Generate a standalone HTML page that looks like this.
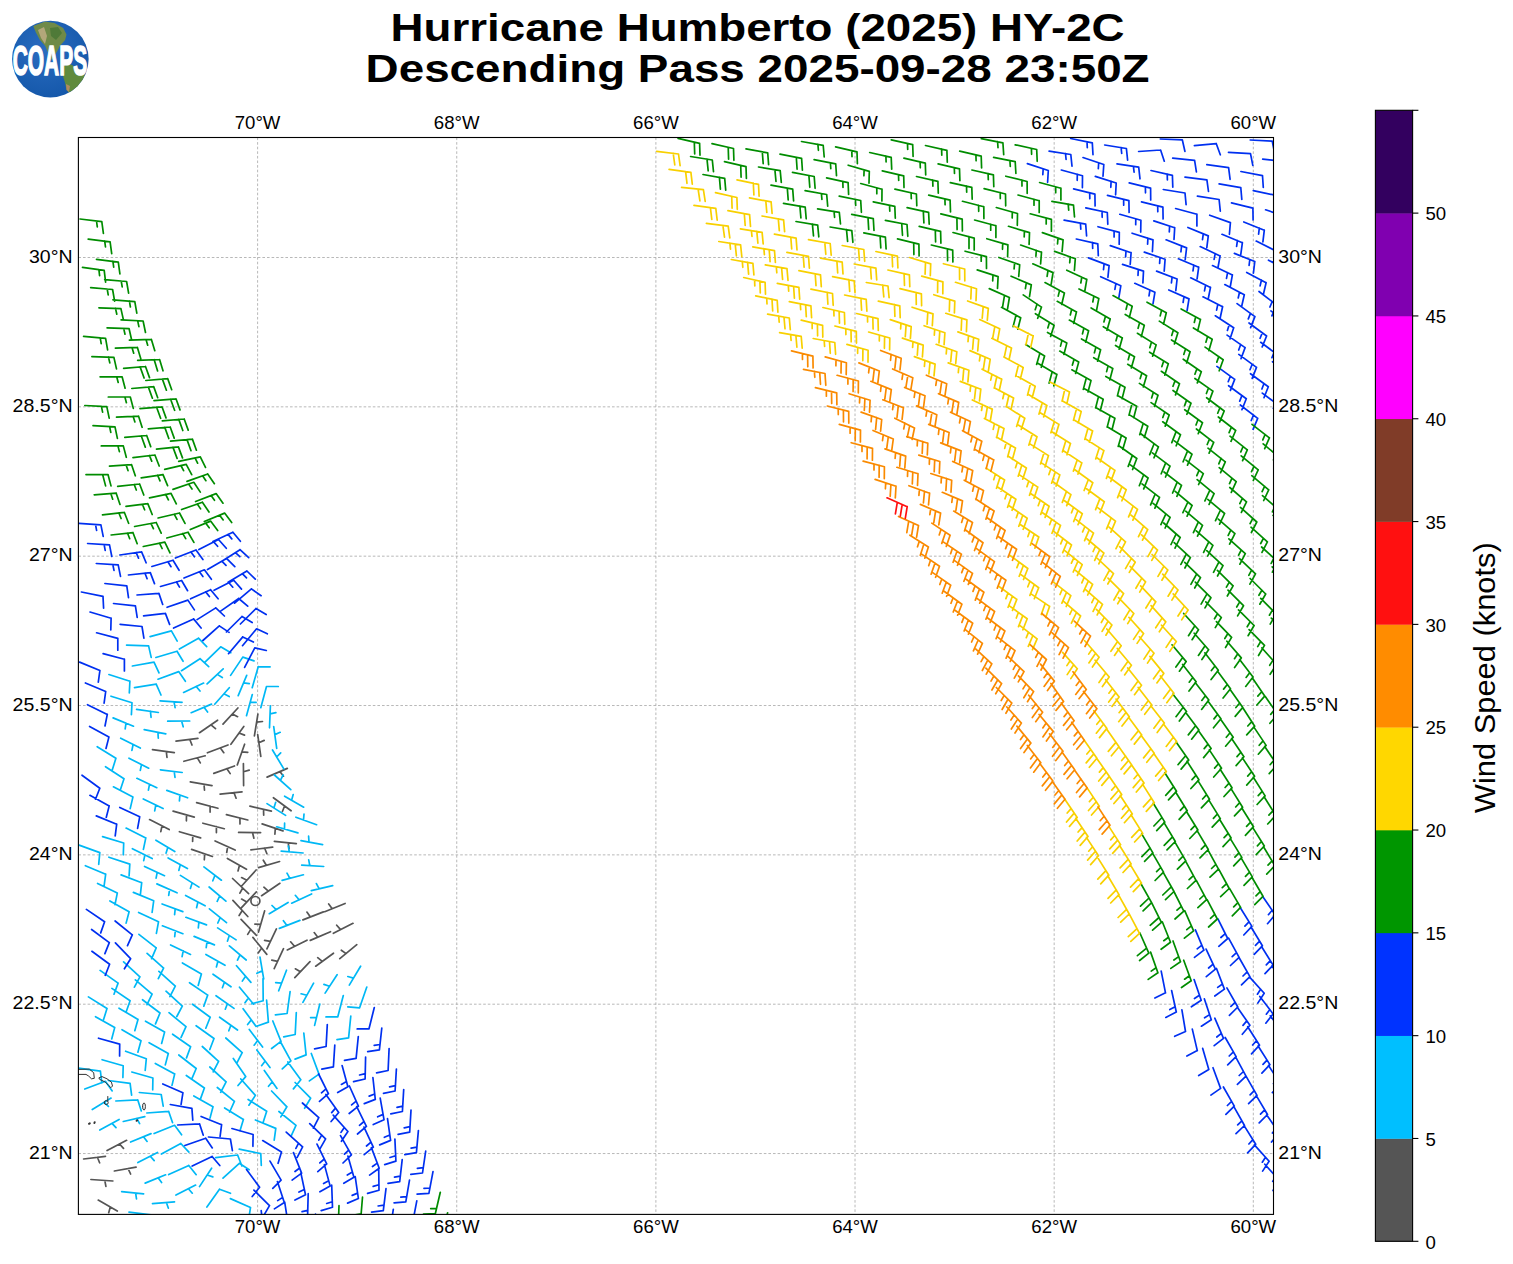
<!DOCTYPE html>
<html><head><meta charset="utf-8"><style>html,body{margin:0;padding:0;background:#fff;width:1513px;height:1264px;overflow:hidden;position:relative}</style></head>
<body><svg width="1513" height="1264" viewBox="0 0 1513 1264" style="position:absolute;left:0;top:0">
<path d="M257.60 137.5V1214.4M456.74 137.5V1214.4M655.88 137.5V1214.4M855.02 137.5V1214.4M1054.16 137.5V1214.4M1253.30 137.5V1214.4M78.4 1153.54H1273.5M78.4 1004.20H1273.5M78.4 854.86H1273.5M78.4 705.52H1273.5M78.4 556.18H1273.5M78.4 406.84H1273.5M78.4 257.50H1273.5" stroke="#b0b0b0" stroke-width="0.9" stroke-dasharray="2.6 2" fill="none"/>
<defs><clipPath id="axclip"><rect x="78.4" y="137.5" width="1195.1" height="1076.9"/></clipPath></defs><g clip-path="url(#axclip)" fill="none" stroke-width="1.70" stroke-linecap="round" stroke-linejoin="round">
<path stroke="#555555" d="M223.0 724.2L237.9 708.0M232.4 714.0l5.2 2.7M199.5 732.7L217.6 720.2M211.0 724.8l4.5 3.8M176.0 741.2L197.9 738.4M189.8 739.5l2.2 5.5M152.5 749.7L174.3 752.7M166.3 751.6l0.7 5.9M254.4 735.8L257.9 714.1M256.6 722.1l5.9 -0.6M230.9 744.3L243.8 726.5M239.0 733.0l5.5 2.1M207.4 752.8L228.0 745.0M220.4 747.9l3.4 4.8M183.9 761.3L205.2 755.8M197.4 757.8l2.9 5.1M260.8 756.4L257.7 734.7M258.8 742.7l5.4 -2.3M237.3 764.9L244.6 744.2M241.9 751.8l5.9 0.5M213.8 773.4L234.5 766.0M226.9 768.7l3.3 4.9M190.3 781.9L212.0 785.6M204.0 784.3l0.5 5.9M267.1 777.1L287.3 768.4M279.9 771.6l3.6 4.6M243.6 785.6L243.4 763.6M243.5 771.7l5.7 -1.6M220.1 794.1L242.0 791.9M234.0 792.7l2.1 5.5M196.6 802.6L217.9 808.3M210.1 806.2l-0.0 5.9M173.1 811.1L194.3 817.1M186.5 814.9l-0.1 5.9M149.6 819.6L169.2 829.5M162.0 825.9l-1.2 5.8M273.4 797.7L291.1 810.8M284.6 806.0l-2.2 5.5M249.9 806.2L271.4 811.1M263.5 809.3l0.2 5.9M226.4 814.7L247.8 820.0M239.9 818.0l0.1 5.9M202.9 823.2L224.3 828.7M216.4 826.7l0.0 5.9M179.4 831.7L200.6 837.9M192.8 835.6l-0.2 5.9M262.1 823.9L283.0 830.9M275.3 828.3l-0.4 5.9M238.6 832.4L260.6 832.6M252.5 832.5l1.4 5.7M215.1 840.9L235.1 850.1M227.7 846.7l-1.0 5.8M191.6 849.4L212.4 856.5M204.7 853.9l-0.4 5.9M274.4 841.4L296.3 843.6M288.2 842.8l0.9 5.8M250.9 849.9L272.7 847.2M264.7 848.2l2.2 5.5M227.4 858.4L246.5 869.3M239.5 865.3l-1.5 5.7M279.6 861.5L258.5 867.6M266.3 865.3l-3.0 -5.1M256.1 870.0L241.4 886.3M246.8 880.3l-5.2 -2.7M232.6 878.5L248.6 893.6M242.7 888.0l-2.8 5.2M279.9 883.3L261.6 895.7M268.3 891.1l-4.4 -3.9M256.4 891.8L241.3 907.8M246.8 901.9l-5.2 -2.8M232.9 900.3L247.8 916.5M242.3 910.5l-3.2 5.0M264.6 910.9L258.5 932.1M260.8 924.3l-5.9 -0.2M241.1 919.4L256.4 935.3M250.8 929.4l-3.1 5.0M345.1 903.5L324.7 911.7M332.2 908.7l-3.5 -4.7M323.4 911.9L302.9 919.9M310.4 916.9l-3.5 -4.8M276.4 928.9L266.9 948.8M270.4 941.4l-5.8 -1.1M252.9 937.4L266.8 954.4M261.7 948.1l-3.5 4.8M353.0 923.3L333.4 933.3M340.6 929.6l-3.9 -4.4M330.5 931.7L310.3 940.4M317.8 937.2l-3.6 -4.6M307.0 940.2L287.3 949.9M294.5 946.3l-3.9 -4.5M283.5 948.7L274.2 968.6M277.6 961.3l-5.8 -1.1M356.8 944.7L339.8 958.7M346.1 953.6l-4.8 -3.4M333.5 953.2L315.7 966.2M322.3 961.4l-4.6 -3.7M310.0 961.7L294.8 977.6M300.4 971.7l-5.1 -2.9M107.1 1150.5L126.6 1140.3M119.5 1144.0l4.0 4.4M83.6 1159.0L105.5 1156.3M97.4 1157.3l2.2 5.5M114.4 1171.0L136.1 1167.2M128.1 1168.6l2.5 5.4M90.9 1179.5L112.9 1181.0M104.8 1180.5l1.1 5.8M98.2 1200.1L117.3 1211.1M110.3 1207.0l-1.6 5.7"/>
<path stroke="#00b8f5" d="M150.1 636.6L171.4 630.9M171.4 630.9l5.8 10.2M126.6 645.1L148.6 645.9M148.6 645.9l2.6 11.5M179.4 649.0L198.5 638.2M198.5 638.2l8.2 8.4M155.9 657.5L177.0 651.2M177.0 651.2l6.1 10.1M132.4 666.0L154.0 662.1M154.0 662.1l5.0 10.7M108.9 674.5L129.9 681.2M129.9 681.2l-0.6 11.8M205.0 662.2L220.7 646.8M220.7 646.8l10.1 6.0M181.5 670.7L200.0 658.7M200.0 658.7l8.7 7.9M158.0 679.2L178.7 671.6M178.7 671.6l6.7 9.7M134.5 687.7L156.2 684.2M156.2 684.2l4.8 10.8M111.0 696.2L132.0 702.8M132.0 702.8l-0.6 11.8M230.6 675.4L242.8 657.1M242.8 657.1l11.2 3.8M207.1 683.9L223.2 668.8M217.3 674.4l5.0 3.1M183.6 692.4L203.6 683.1M196.2 686.5l3.8 4.5M160.1 700.9L182.1 702.3M174.0 701.8l1.1 5.8M136.6 709.4L158.4 712.5M150.4 711.4l0.7 5.9M113.1 717.9L133.5 726.2M126.0 723.1l-0.8 5.8M252.2 687.7L258.3 666.6M258.3 666.6l11.8 0.3M238.2 695.7L246.7 675.4M243.5 682.9l5.8 0.8M214.7 704.2L229.3 687.7M223.9 693.8l5.3 2.7M191.2 712.7L211.5 704.1M204.0 707.3l3.6 4.7M167.7 721.2L189.7 721.0M181.6 721.1l1.6 5.7M144.2 729.7L165.8 733.8M157.9 732.3l0.4 5.9M120.7 738.2L140.3 748.1M133.1 744.5l-1.2 5.8M97.2 746.7L115.9 758.3M115.9 758.3l-3.5 11.3M260.8 707.7L266.5 686.5M266.5 686.5l11.8 0.0M246.5 715.7L252.3 694.5M250.2 702.3l5.9 0.1M129.0 758.2L148.7 768.2M141.5 764.5l-1.2 5.8M105.5 766.7L124.0 778.7M124.0 778.7l-3.7 11.2M269.5 727.8L270.4 705.8M270.1 713.9l5.8 -1.2M160.4 769.8L182.2 772.5M174.2 771.5l0.8 5.8M136.9 778.3L156.8 787.7M149.5 784.3l-1.1 5.8M113.4 786.8L132.9 797.1M132.9 797.1l-2.7 11.5M276.7 748.3L273.7 726.5M274.8 734.6l5.4 -2.3M166.8 790.4L187.6 797.8M179.9 795.1l-0.5 5.9M143.3 798.9L163.1 808.5M155.8 805.0l-1.1 5.8M283.8 768.9L272.5 750.0M276.6 757.0l4.1 -4.2M126.1 828.1L145.8 837.9M145.8 837.9l-2.4 11.5M102.6 836.6L123.7 843.0M123.7 843.0l-0.4 11.8M79.1 845.1L99.8 852.6M99.8 852.6l-1.1 11.7M290.8 789.6L274.4 775.0M280.4 780.3l2.7 -5.3M155.9 840.2L174.8 851.6M167.8 847.4l-1.7 5.7M132.4 848.7L152.2 858.5M144.9 854.9l-1.2 5.8M108.9 857.2L129.8 864.1M129.8 864.1l-0.7 11.8M85.4 865.7L105.7 874.2M105.7 874.2l-1.6 11.7M303.7 807.2L284.6 796.2M291.6 800.2l1.6 -5.7M285.6 815.4L267.0 803.6M273.9 807.9l1.8 -5.6M168.1 857.9L187.4 868.5M180.3 864.6l-1.4 5.7M144.6 866.4L164.5 875.7M157.2 872.3l-1.1 5.8M121.1 874.9L141.7 882.7M141.7 882.7l-1.3 11.7M97.6 883.4L117.3 893.1M117.3 893.1l-2.3 11.6M316.6 824.7L295.9 817.2M303.5 820.0l0.5 -5.9M297.9 832.9L276.7 826.8M284.5 829.1l0.1 -5.9M203.9 866.9L221.4 880.2M215.0 875.3l-2.2 5.5M180.4 875.4L199.0 887.1M192.2 882.8l-1.8 5.6M156.9 883.9L177.0 892.8M169.6 889.5l-0.9 5.8M133.4 892.4L153.7 900.8M153.7 900.8l-1.6 11.7M109.9 900.9L129.1 911.7M129.1 911.7l-3.0 11.4M322.6 844.7L301.0 840.6M309.0 842.1l-0.4 -5.9M303.1 853.0L281.2 851.1M289.3 851.8l-1.0 -5.8M209.1 887.0L225.9 901.2M219.7 896.0l-2.5 5.3M185.6 895.5L205.1 905.8M197.9 902.0l-1.3 5.7M162.1 904.0L182.8 911.6M175.2 908.8l-0.6 5.9M138.6 912.5L158.5 921.8M158.5 921.8l-2.1 11.6M323.7 866.5L301.7 865.1M309.8 865.6l-1.1 -5.8M303.4 874.8L282.1 880.4M289.9 878.3l-2.9 -5.1M209.4 908.8L226.5 922.6M220.2 917.6l-2.4 5.4M185.9 917.3L206.5 924.9M198.9 922.1l-0.6 5.9M162.4 925.8L182.9 933.7M175.3 930.8l-0.6 5.9M138.9 934.3L156.2 947.8M156.2 947.8l-4.6 10.8M332.7 885.6L311.3 890.6M319.2 888.8l-2.8 -5.2M311.6 893.9L291.7 903.2M299.1 899.8l-3.8 -4.5M288.1 902.4L269.3 913.7M276.2 909.6l-4.2 -4.1M217.6 927.9L236.1 939.9M229.3 935.5l-1.8 5.6M194.1 936.4L214.4 944.9M207.0 941.8l-0.8 5.8M170.6 944.9L190.5 954.4M183.2 950.9l-1.1 5.8M147.1 953.4L163.6 968.1M163.6 968.1l-5.3 10.5M123.6 961.9L139.9 976.8M139.9 976.8l-5.5 10.4M100.1 970.4L118.1 983.1M118.1 983.1l-4.1 11.1M299.9 920.4L279.4 928.4M286.9 925.5l-3.5 -4.8M229.4 945.9L246.2 960.0M240.0 954.8l-2.5 5.3M205.9 954.4L225.0 965.3M217.9 961.3l-1.5 5.7M182.4 962.9L201.4 974.0M201.4 974.0l-3.2 11.4M158.9 971.4L175.3 986.1M175.3 986.1l-5.4 10.5M135.4 979.9L152.1 994.1M152.1 994.1l-5.1 10.6M111.9 988.4L130.1 1000.7M130.1 1000.7l-3.9 11.1M88.4 996.9L107.0 1008.5M107.0 1008.5l-3.5 11.3M260.0 957.2L263.7 978.9M262.3 970.9l-5.4 2.4M236.5 965.7L250.9 982.4M245.6 976.2l-3.3 4.9M213.0 974.2L231.0 986.8M224.4 982.2l-2.0 5.5M189.5 982.7L207.7 995.1M207.7 995.1l-3.9 11.1M166.0 991.2L182.3 1006.1M182.3 1006.1l-5.5 10.4M142.5 999.7L160.0 1013.0M160.0 1013.0l-4.5 10.9M119.0 1008.2L138.0 1019.4M138.0 1019.4l-3.2 11.3M95.5 1016.7L114.7 1027.6M114.7 1027.6l-3.0 11.4M286.5 970.2L278.7 990.8M281.6 983.2l-5.9 -0.6M263.0 978.7L263.2 1000.7M263.2 1000.7l-11.4 3.1M239.5 987.2L253.6 1004.2M248.4 997.9l-3.4 4.8M216.0 995.7L234.0 1008.4M227.4 1003.7l-2.1 5.5M192.5 1004.2L210.2 1017.3M210.2 1017.3l-4.4 10.9M169.0 1012.7L186.0 1026.7M186.0 1026.7l-4.9 10.7M145.5 1021.2L164.6 1032.1M164.6 1032.1l-3.0 11.4M122.0 1029.7L141.0 1040.8M141.0 1040.8l-3.1 11.4M360.6 966.2L349.3 985.1M353.5 978.1l-5.7 -1.6M337.1 974.7L325.1 993.1M329.5 986.3l-5.6 -1.9M313.6 983.2L302.9 1002.4M306.8 995.3l-5.7 -1.5M290.1 991.7L287.1 1013.5M287.1 1013.5l-11.7 1.4M266.6 1000.2L268.4 1022.1M268.4 1022.1l-11.1 3.9M243.1 1008.7L256.1 1026.4M251.3 1019.9l-3.7 4.6M219.6 1017.2L237.5 1030.0M230.9 1025.3l-2.1 5.5M196.1 1025.7L214.0 1038.5M214.0 1038.5l-4.2 11.0M172.6 1034.2L190.6 1046.8M190.6 1046.8l-4.1 11.1M149.1 1042.7L168.3 1053.5M168.3 1053.5l-3.0 11.4M125.6 1051.2L146.3 1058.8M146.3 1058.8l-1.1 11.7M102.1 1059.7L123.2 1065.8M123.2 1065.8l-0.3 11.8M78.6 1068.2L100.4 1071.2M100.4 1071.2l1.4 11.7M366.8 987.0L359.6 1007.8M359.6 1007.8l-11.8 -0.9M343.3 995.5L337.8 1016.8M337.8 1016.8l-11.8 0.1M319.8 1004.0L314.6 1025.4M316.5 1017.5l-5.9 0.1M296.3 1012.5L295.2 1034.5M295.2 1034.5l-11.5 2.4M272.8 1021.0L281.0 1041.4M281.0 1041.4l-9.4 7.1M249.3 1029.5L262.6 1047.1M257.7 1040.6l-3.6 4.6M225.8 1038.0L242.2 1052.7M242.2 1052.7l-5.4 10.5M202.3 1046.5L218.6 1061.3M218.6 1061.3l-5.4 10.5M178.8 1055.0L196.2 1068.5M196.2 1068.5l-4.6 10.8M155.3 1063.5L174.7 1073.9M174.7 1073.9l-2.7 11.5M131.8 1072.0L152.9 1078.0M152.9 1078.0l-0.2 11.8M108.3 1080.5L130.1 1083.4M130.1 1083.4l1.5 11.7M84.8 1089.0L105.4 1081.3M105.4 1081.3l6.8 9.6M350.8 1016.0L348.6 1037.9M348.6 1037.9l-11.6 1.8M303.8 1033.0L306.1 1054.9M306.1 1054.9l-11.0 4.2M280.3 1041.5L290.9 1060.8M290.9 1060.8l-8.6 8.1M256.8 1050.0L270.0 1067.5M265.2 1061.1l-3.6 4.6M233.3 1058.5L245.7 1076.6M245.7 1076.6l-7.7 8.9M209.8 1067.0L226.1 1081.8M226.1 1081.8l-5.4 10.5M186.3 1075.5L204.4 1088.0M204.4 1088.0l-4.0 11.1M139.3 1092.5L161.2 1094.5M161.2 1094.5l2.0 11.6M115.8 1101.0L137.7 1099.8M137.7 1099.8l3.6 11.2M92.3 1109.5L111.1 1098.1M104.2 1102.3l4.2 4.1M311.3 1053.5L319.0 1074.1M319.0 1074.1l-9.6 6.8M287.8 1062.0L300.8 1079.7M300.8 1079.7l-7.4 9.2M264.3 1070.5L277.0 1088.4M272.3 1081.8l-3.8 4.5M240.8 1079.0L255.4 1095.4M255.4 1095.4l-6.5 9.8M217.3 1087.5L234.4 1101.3M234.4 1101.3l-4.8 10.7M193.8 1096.0L213.0 1106.7M213.0 1106.7l-3.0 11.4M146.8 1113.0L168.7 1111.4M168.7 1111.4l3.8 11.2M123.3 1121.5L144.8 1116.7M136.9 1118.4l2.7 5.2M99.8 1130.0L119.1 1119.5M112.0 1123.3l4.0 4.3M295.1 1082.5L310.6 1098.2M310.6 1098.2l-6.0 10.1M271.6 1091.0L286.9 1106.8M286.9 1106.8l-6.1 10.1M248.1 1099.5L266.7 1111.3M266.7 1111.3l-3.6 11.2M224.6 1108.0L243.4 1119.4M243.4 1119.4l-3.4 11.3M154.1 1133.5L174.6 1125.3M174.6 1125.3l7.0 9.5M130.6 1142.0L151.0 1133.6M143.5 1136.7l3.6 4.7M278.9 1111.5L296.0 1125.4M296.0 1125.4l-4.9 10.7M255.4 1120.0L275.8 1128.4M275.8 1128.4l-1.6 11.7M161.4 1154.0L180.8 1143.5M180.8 1143.5l8.1 8.6M137.9 1162.5L157.5 1152.5M150.3 1156.2l3.9 4.4M239.2 1149.1L260.8 1153.7M260.8 1153.7l0.5 11.8M215.7 1157.6L237.6 1155.0M237.6 1155.0l4.3 11.0M168.7 1174.6L188.8 1165.5M188.8 1165.5l7.4 9.2M145.2 1183.1L165.6 1174.8M158.1 1177.8l3.5 4.7M121.7 1191.6L143.6 1193.8M135.6 1193.0l0.9 5.8M223.0 1178.1L239.3 1163.3M239.3 1163.3l9.9 6.4M199.5 1186.6L211.6 1168.2M207.2 1175.0l5.6 1.9M176.0 1195.1L195.6 1185.1M188.4 1188.8l3.9 4.4M152.5 1203.6L174.5 1201.9M166.4 1202.5l1.9 5.6M129.0 1212.1L150.9 1214.8M142.8 1213.8l0.8 5.8M230.4 1198.6L250.5 1207.5M250.5 1207.5l-1.8 11.6M206.9 1207.1L219.5 1189.2M219.5 1189.2l11.0 4.1"/>
<path stroke="#0030f0" d="M1027.4 163.6L1048.3 170.5M1048.3 170.5l-0.7 11.8M1043.2 168.8l-0.4 5.9M1049.1 151.1L1070.8 154.5M1070.8 154.5l1.2 11.7M1065.5 153.6l0.6 5.9M1070.7 138.5L1092.3 142.9M1092.3 142.9l0.7 11.8M1087.0 141.8l0.3 5.9M1061.3 170.0L1082.5 175.8M1082.5 175.8l-0.1 11.8M1077.3 174.4l-0.1 5.9M1083.0 157.5L1103.8 164.5M1103.8 164.5l-0.8 11.8M1098.7 162.8l-0.4 5.9M1104.7 145.0L1126.4 148.5M1126.4 148.5l1.2 11.7M1121.1 147.6l0.6 5.9M1073.6 188.9L1094.9 194.1M1094.9 194.1l0.2 11.8M1089.7 192.8l0.1 5.9M1095.3 176.4L1116.2 183.0M1116.2 183.0l-0.6 11.8M1111.1 181.4l-0.3 5.9M1117.0 163.9L1138.7 167.1M1138.7 167.1l1.3 11.7M1133.4 166.3l0.7 5.9M1138.6 151.5L1160.6 150.0M1160.6 150.0l3.7 11.2M1160.3 139.0L1182.3 139.8M1182.3 139.8l2.6 11.5M1064.1 220.2L1085.7 224.2M1085.7 224.2l0.9 11.8M1080.4 223.2l0.4 5.9M1085.8 207.8L1107.3 212.5M1107.3 212.5l0.5 11.8M1102.0 211.4l0.2 5.9M1107.5 195.3L1128.9 200.6M1128.9 200.6l0.2 11.8M1123.6 199.3l0.1 5.9M1129.2 182.9L1150.6 188.2M1150.6 188.2l0.1 11.8M1145.4 186.9l0.1 5.9M1151.0 170.5L1172.4 175.3M1172.4 175.3l0.4 11.8M1167.2 174.1l0.2 5.9M1172.7 158.1L1194.6 160.3M1194.6 160.3l1.8 11.6M1194.4 145.6L1216.3 143.7M1216.3 143.7l4.0 11.1M1076.3 239.0L1097.8 243.8M1097.8 243.8l0.5 11.8M1092.5 242.6l0.2 5.9M1098.0 226.7L1119.3 232.4M1119.3 232.4l-0.1 11.8M1114.1 231.0l-0.0 5.9M1119.8 214.3L1140.9 220.3M1140.9 220.3l-0.2 11.8M1135.8 218.8l-0.1 5.9M1141.5 201.9L1162.9 207.1M1162.9 207.1l0.2 11.8M1157.7 205.8l0.1 5.9M1163.3 189.5L1185.0 193.0M1185.0 193.0l1.1 11.7M1185.0 177.1L1206.9 179.8M1206.9 179.8l1.6 11.7M1206.8 164.7L1228.6 167.6M1228.6 167.6l1.5 11.7M1228.5 152.4L1250.5 153.7M1250.5 153.7l2.3 11.6M1250.2 140.0L1272.2 141.2M1272.2 141.2l2.4 11.6M1088.5 257.9L1109.1 265.6M1109.1 265.6l-1.2 11.7M1104.1 263.7l-0.6 5.9M1110.3 245.6L1131.1 252.7M1131.1 252.7l-0.9 11.8M1126.0 251.0l-0.4 5.9M1132.1 233.2L1153.0 239.9M1153.0 239.9l-0.6 11.8M1147.9 238.2l-0.3 5.9M1153.8 220.9L1174.7 227.7M1174.7 227.7l-0.7 11.8M1169.6 226.0l-0.3 5.9M1175.6 208.5L1196.9 214.2M1196.9 214.2l-0.0 11.8M1197.4 196.2L1219.1 199.5M1219.1 199.5l1.2 11.7M1219.1 183.8L1240.8 187.7M1240.8 187.7l1.0 11.7M1240.9 171.5L1262.5 175.7M1262.5 175.7l0.8 11.8M1262.7 159.2L1284.6 161.3M1284.6 161.3l1.9 11.6M1100.7 276.7L1120.8 285.8M1120.8 285.8l-1.9 11.6M1115.9 283.5l-1.0 5.8M1122.5 264.4L1143.5 271.1M1143.5 271.1l-0.6 11.8M1138.3 269.5l-0.3 5.9M1144.3 252.1L1165.1 259.3M1165.1 259.3l-0.9 11.8M1160.0 257.5l-0.4 5.9M1166.1 239.8L1186.6 247.9M1186.6 247.9l-1.4 11.7M1181.6 245.9l-0.7 5.9M1187.9 227.5L1208.3 235.9M1208.3 235.9l-1.5 11.7M1203.3 233.8l-0.8 5.8M1209.7 215.2L1230.4 222.6M1230.4 222.6l-1.0 11.7M1231.5 202.9L1252.9 208.2M1252.9 208.2l0.2 11.8M1253.3 190.6L1274.8 195.1M1274.8 195.1l0.6 11.8M1134.8 283.3L1154.9 292.3M1154.9 292.3l-1.9 11.6M1149.9 290.1l-0.9 5.8M1156.6 271.1L1177.1 279.0M1177.1 279.0l-1.3 11.7M1172.1 277.1l-0.7 5.9M1178.4 258.8L1198.7 267.2M1198.7 267.2l-1.6 11.7M1193.8 265.1l-0.8 5.8M1200.2 246.6L1220.1 255.9M1220.1 255.9l-2.1 11.6M1215.2 253.6l-1.1 5.8M1222.0 234.3L1242.4 242.7M1242.4 242.7l-1.6 11.7M1237.4 240.6l-0.8 5.8M1243.8 222.0L1264.3 230.2M1264.3 230.2l-1.4 11.7M1259.3 228.2l-0.7 5.9M1265.6 209.8L1286.5 216.9M1286.5 216.9l-0.8 11.8M1168.8 290.0L1189.0 298.9M1189.0 298.9l-1.9 11.6M1184.0 296.7l-0.9 5.8M1190.7 277.8L1210.5 287.4M1210.5 287.4l-2.3 11.6M1205.6 285.0l-1.1 5.8M1212.5 265.6L1232.4 274.9M1232.4 274.9l-2.1 11.6M1227.6 272.6l-1.1 5.8M1234.4 253.4L1254.8 261.5M1254.8 261.5l-1.4 11.7M1249.8 259.5l-0.7 5.9M1256.2 241.1L1275.9 250.9M1275.9 250.9l-2.4 11.5M1203.0 296.8L1222.6 306.7M1222.6 306.7l-2.5 11.5M1217.8 304.3l-1.2 5.8M1224.8 284.6L1244.3 294.8M1244.3 294.8l-2.6 11.5M1239.5 292.3l-1.3 5.7M1246.7 272.4L1266.1 282.7M1266.1 282.7l-2.7 11.5M1261.4 280.2l-1.3 5.7M1268.5 260.2L1288.2 270.2M1288.2 270.2l-2.5 11.5M1215.3 315.8L1233.7 327.7M1233.7 327.7l-3.7 11.2M1229.2 324.8l-1.8 5.6M1237.1 303.6L1254.9 316.6M1254.9 316.6l-4.3 11.0M1250.5 313.4l-2.2 5.5M1259.0 291.5L1276.5 304.9M1276.5 304.9l-4.6 10.9M1272.2 301.6l-2.3 5.4M1227.1 335.1L1245.1 347.6M1245.1 347.6l-4.1 11.1M1240.7 344.5l-2.0 5.5M1249.0 323.0L1266.6 336.0M1266.6 336.0l-4.4 10.9M1262.3 332.8l-2.2 5.5M1270.9 310.9L1288.4 324.1M1288.4 324.1l-4.5 10.9M1284.1 320.9l-2.2 5.5M1216.9 366.4L1234.7 379.4M1234.7 379.4l-4.3 11.0M1230.3 376.2l-2.1 5.5M1238.8 354.4L1256.5 367.4M1256.5 367.4l-4.3 11.0M1252.2 364.2l-2.2 5.5M1260.7 342.3L1278.4 355.4M1278.4 355.4l-4.4 10.9M1274.1 352.2l-2.2 5.5M1228.6 385.7L1246.3 398.8M1246.3 398.8l-4.4 10.9M1241.9 395.6l-2.2 5.5M1250.5 373.7L1268.3 386.7M1268.3 386.7l-4.3 11.0M1264.0 383.5l-2.1 5.5M1272.5 361.7L1290.2 374.8M1290.2 374.8l-4.4 11.0M1285.8 371.6l-2.2 5.5M1240.3 405.0L1257.7 418.4M1257.7 418.4l-4.6 10.9M1253.5 415.1l-2.3 5.4M1262.3 393.1L1279.9 406.2M1279.9 406.2l-4.4 10.9M1275.6 402.9l-2.2 5.5M1195.4 929.9L1203.9 950.2M1203.9 950.2l-9.4 7.2M1201.9 945.2l-4.7 3.6M1217.9 918.8L1227.7 938.5M1227.7 938.5l-8.9 7.8M1225.3 933.6l-4.4 3.9M1240.3 907.7L1251.9 926.4M1251.9 926.4l-8.1 8.6M1249.0 921.8l-4.1 4.3M1262.7 896.6L1275.2 914.7M1275.2 914.7l-7.7 9.0M1272.2 910.2l-3.8 4.5M1161.2 971.2L1165.5 992.8M1165.5 992.8l-10.6 5.2M1206.1 949.1L1215.4 969.1M1215.4 969.1l-9.1 7.5M1213.1 964.2l-4.5 3.8M1228.6 938.1L1239.1 957.4M1239.1 957.4l-8.6 8.1M1236.5 952.7l-4.3 4.0M1251.0 927.0L1262.4 945.8M1262.4 945.8l-8.2 8.5M1259.6 941.2l-4.1 4.2M1273.5 916.0L1285.8 934.2M1285.8 934.2l-7.7 8.9M1282.8 929.7l-3.9 4.4M1171.6 990.5L1176.3 1012.0M1176.3 1012.0l-10.5 5.4M1175.1 1006.8l-5.3 2.7M1194.1 979.5L1201.2 1000.3M1201.2 1000.3l-9.8 6.5M1199.4 995.2l-4.9 3.3M1216.5 968.5L1224.4 989.1M1224.4 989.1l-9.6 6.9M1222.5 984.0l-4.8 3.4M1239.0 957.5L1249.9 976.6M1249.9 976.6l-8.4 8.2M1247.2 971.9l-4.2 4.1M1261.5 946.5L1273.1 965.1M1273.1 965.1l-8.1 8.6M1270.3 960.6l-4.0 4.3M1181.9 1009.8L1185.5 1031.5M1185.5 1031.5l-10.8 4.8M1204.4 998.9L1211.3 1019.8M1211.3 1019.8l-9.9 6.4M1209.6 1014.6l-5.0 3.2M1226.9 987.9L1237.8 1007.0M1237.8 1007.0l-8.4 8.3M1235.1 1002.3l-4.2 4.1M1249.4 976.9L1264.2 993.2M1264.2 993.2l-6.4 9.9M1260.6 989.2l-3.2 5.0M1271.9 966.0L1285.0 983.7M1285.0 983.7l-7.4 9.2M1281.8 979.3l-3.7 4.6M1192.3 1029.1L1197.3 1050.6M1197.3 1050.6l-10.4 5.5M1214.8 1018.2L1223.5 1038.4M1223.5 1038.4l-9.3 7.3M1221.4 1033.4l-4.6 3.6M1237.3 1007.3L1249.9 1025.3M1249.9 1025.3l-7.6 9.0M1246.8 1020.9l-3.8 4.5M1259.8 996.4L1273.1 1013.9M1273.1 1013.9l-7.3 9.3M1269.9 1009.6l-3.6 4.6M1202.7 1048.4L1208.8 1069.5M1208.8 1069.5l-10.1 6.1M1225.2 1037.5L1236.1 1056.6M1236.1 1056.6l-8.4 8.3M1233.4 1051.9l-4.2 4.1M1247.7 1026.7L1259.5 1045.2M1259.5 1045.2l-8.0 8.6M1256.6 1040.7l-4.0 4.3M1270.3 1015.8L1283.3 1033.5M1283.3 1033.5l-7.4 9.2M1280.1 1029.2l-3.7 4.6M1213.0 1067.7L1220.6 1088.4M1220.6 1088.4l-9.7 6.7M1235.6 1056.9L1246.0 1076.2M1246.0 1076.2l-8.6 8.1M1243.5 1071.5l-4.3 4.0M1258.1 1046.0L1269.9 1064.6M1269.9 1064.6l-8.0 8.6M1267.0 1060.1l-4.0 4.3M1223.4 1087.0L1234.3 1106.1M1234.3 1106.1l-8.4 8.3M1231.6 1101.4l-4.2 4.1M1246.0 1076.2L1257.0 1095.3M1257.0 1095.3l-8.4 8.3M1254.3 1090.6l-4.2 4.2M1268.5 1065.4L1280.4 1084.0M1280.4 1084.0l-8.0 8.7M1277.5 1079.4l-4.0 4.3M1233.7 1106.3L1244.5 1125.5M1244.5 1125.5l-8.5 8.2M1241.9 1120.8l-4.2 4.1M1256.3 1095.6L1267.5 1114.5M1267.5 1114.5l-8.3 8.4M1264.7 1109.9l-4.2 4.2M1244.1 1125.6L1255.7 1144.3M1255.7 1144.3l-8.1 8.6M1252.9 1139.7l-4.0 4.3M1266.7 1114.9L1279.2 1133.0M1279.2 1133.0l-7.7 9.0M1276.2 1128.5l-3.8 4.5M1254.4 1144.9L1269.1 1161.3M1269.1 1161.3l-6.5 9.8M1265.5 1157.3l-3.2 4.9M1264.8 1164.2L1279.5 1180.6M1279.5 1180.6l-6.5 9.9M1275.9 1176.5l-3.2 4.9M79.0 523.4L100.9 524.8M100.9 524.8l2.3 11.6M95.5 524.5l1.1 5.8M87.6 543.5L109.5 544.9M109.5 544.9l2.3 11.6M104.1 544.5l1.1 5.8M119.8 555.0L141.6 551.9M141.6 551.9l4.5 10.9M136.2 552.7l2.3 5.4M96.3 563.5L118.2 564.8M118.2 564.8l2.3 11.6M112.8 564.5l1.2 5.8M212.9 541.5L232.9 532.2M232.9 532.2l7.5 9.1M228.0 534.4l3.8 4.5M198.9 549.5L218.5 539.5M218.5 539.5l7.8 8.8M213.7 541.9l3.9 4.4M175.4 558.0L196.0 550.0M196.0 550.0l6.9 9.6M190.9 552.0l3.5 4.8M151.9 566.5L173.0 560.2M173.0 560.2l6.1 10.1M167.9 561.7l3.1 5.0M128.4 575.0L150.3 572.6M150.3 572.6l4.2 11.0M145.0 573.2l2.1 5.5M104.9 583.5L126.8 585.9M126.8 585.9l1.7 11.7M81.4 592.0L103.0 596.4M103.0 596.4l0.6 11.8M221.5 561.5L240.0 549.7M240.0 549.7l8.7 8.0M235.5 552.6l4.3 4.0M207.5 569.5L226.5 558.4M226.5 558.4l8.3 8.3M221.8 561.2l4.2 4.2M184.0 578.0L204.4 569.8M204.4 569.8l7.0 9.5M199.4 571.8l3.5 4.7M160.5 586.5L181.6 580.5M181.6 580.5l6.0 10.2M176.5 582.0l3.0 5.1M137.0 595.0L158.9 593.4M158.9 593.4l3.8 11.1M113.5 603.5L135.4 605.8M135.4 605.8l1.8 11.6M90.0 612.0L111.1 618.2M111.1 618.2l-0.3 11.8M228.1 582.3L246.9 571.0M246.9 571.0l8.4 8.2M242.3 573.7l4.2 4.1M214.1 590.3L233.7 580.3M233.7 580.3l7.8 8.8M228.9 582.8l3.9 4.4M190.6 598.8L210.6 589.7M210.6 589.7l7.5 9.1M205.7 591.9l3.7 4.6M167.1 607.3L187.9 600.1M187.9 600.1l6.5 9.8M143.6 615.8L165.4 613.4M165.4 613.4l4.2 11.0M120.1 624.3L142.0 626.5M142.0 626.5l1.9 11.6M96.6 632.8L117.8 638.4M117.8 638.4l-0.0 11.8M234.6 603.1L251.4 588.9M251.4 588.9l9.7 6.8M220.6 611.1L238.7 598.5M238.7 598.5l9.0 7.7M197.1 619.6L215.8 607.9M215.8 607.9l8.6 8.1M173.6 628.1L193.6 618.9M193.6 618.9l7.5 9.1M103.1 653.6L124.4 659.2M124.4 659.2l-0.0 11.8M79.6 662.1L99.9 670.5M99.9 670.5l-1.6 11.7M240.4 624.0L256.0 608.5M256.0 608.5l10.2 6.0M226.4 632.0L242.0 616.5M242.0 616.5l10.2 6.0M202.9 640.5L219.3 625.9M219.3 625.9l9.8 6.5M85.4 683.0L105.7 691.5M105.7 691.5l-1.6 11.7M242.5 645.7L256.6 628.8M256.6 628.8l10.7 5.0M228.5 653.7L242.8 636.9M242.8 636.9l10.6 5.1M87.5 704.7L107.3 714.4M107.3 714.4l-2.3 11.6M244.6 667.4L254.8 647.9M254.8 647.9l11.5 2.6M89.6 726.4L108.9 737.1M108.9 737.1l-2.9 11.4M82.0 775.2L99.8 788.2M99.8 788.2l-4.3 11.0M89.9 795.3L109.2 805.9M109.2 805.9l-2.9 11.4M119.8 807.4L139.7 816.8M139.7 816.8l-2.1 11.6M96.3 815.9L116.7 824.2M116.7 824.2l-1.5 11.7M86.4 909.4L104.6 921.8M104.6 921.8l-3.9 11.1M115.1 921.0L132.3 934.8M132.3 934.8l-4.8 10.8M91.6 929.5L109.3 942.6M109.3 942.6l-4.4 11.0M115.4 942.8L130.6 958.7M130.6 958.7l-6.2 10.1M91.9 951.3L109.6 964.3M109.6 964.3l-4.3 11.0M98.5 1038.2L119.7 1044.1M119.7 1044.1l-0.1 11.8M374.3 1007.5L369.0 1028.8M369.0 1028.8l-11.8 0.1M327.3 1024.5L326.1 1046.5M326.1 1046.5l-11.5 2.4M162.8 1084.0L182.9 1092.8M182.9 1092.8l-1.8 11.6M381.8 1028.0L379.4 1049.8M379.4 1049.8l-11.7 1.8M380.0 1044.5l-5.8 0.9M358.3 1036.5L356.1 1058.4M356.1 1058.4l-11.6 1.9M334.8 1045.0L333.4 1066.9M333.4 1066.9l-11.6 2.3M170.3 1104.5L191.9 1108.4M191.9 1108.4l0.9 11.8M389.1 1048.5L388.1 1070.5M388.1 1070.5l-11.5 2.4M365.6 1057.0L365.1 1079.0M365.1 1079.0l-11.5 2.7M365.3 1073.6l-5.7 1.4M342.1 1065.5L347.9 1086.7M347.9 1086.7l-10.2 5.9M346.5 1081.5l-5.1 2.9M318.6 1074.0L328.4 1093.7M328.4 1093.7l-8.9 7.7M326.0 1088.9l-4.5 3.9M201.1 1116.5L221.6 1124.7M221.6 1124.7l-1.5 11.7M177.6 1125.0L199.6 1123.9M199.6 1123.9l3.6 11.2M396.4 1069.0L395.1 1091.0M395.1 1091.0l-11.6 2.3M395.4 1085.6l-5.8 1.2M372.9 1077.5L375.3 1099.4M375.3 1099.4l-11.0 4.2M374.7 1094.0l-5.5 2.1M349.4 1086.0L358.4 1106.1M358.4 1106.1l-9.2 7.4M356.2 1101.2l-4.6 3.7M325.9 1094.5L338.7 1112.5M338.7 1112.5l-7.6 9.0M335.5 1108.1l-3.8 4.5M302.4 1103.0L318.8 1117.7M318.8 1117.7l-5.4 10.5M231.9 1128.5L253.1 1134.5M253.1 1134.5l-0.2 11.8M208.4 1137.0L230.4 1139.0M230.4 1139.0l2.0 11.6M184.9 1145.5L205.7 1138.2M205.7 1138.2l6.6 9.7M403.7 1089.6L402.4 1111.5M402.4 1111.5l-11.6 2.3M402.8 1106.1l-5.8 1.2M380.2 1098.1L384.0 1119.7M384.0 1119.7l-10.7 4.9M383.1 1114.4l-5.4 2.4M356.7 1106.6L366.4 1126.3M366.4 1126.3l-8.9 7.7M364.0 1121.5l-4.5 3.8M333.2 1115.1L347.9 1131.5M347.9 1131.5l-6.5 9.8M344.3 1127.5l-3.3 4.9M309.7 1123.6L325.6 1138.9M325.6 1138.9l-5.8 10.3M321.7 1135.1l-2.9 5.1M286.2 1132.1L302.6 1146.8M302.6 1146.8l-5.4 10.5M298.6 1143.2l-2.7 5.2M262.7 1140.6L281.5 1152.0M281.5 1152.0l-3.4 11.3M192.2 1166.1L212.1 1156.5M212.1 1156.5l7.7 9.0M411.0 1110.1L409.7 1132.1M409.7 1132.1l-11.6 2.3M410.0 1126.7l-5.8 1.1M387.5 1118.6L390.6 1140.4M390.6 1140.4l-10.9 4.5M389.8 1135.0l-5.4 2.3M364.0 1127.1L373.3 1147.1M373.3 1147.1l-9.1 7.5M371.0 1142.2l-4.5 3.8M340.5 1135.6L351.4 1154.8M351.4 1154.8l-8.4 8.2M348.7 1150.1l-4.2 4.1M317.0 1144.1L326.7 1163.9M326.7 1163.9l-8.9 7.7M324.3 1159.0l-4.5 3.9M293.5 1152.6L301.6 1173.1M301.6 1173.1l-9.5 7.0M299.7 1168.0l-4.7 3.5M270.0 1161.1L281.1 1180.1M281.1 1180.1l-8.3 8.3M246.5 1169.6L259.6 1187.3M259.6 1187.3l-7.4 9.2M418.4 1130.6L416.4 1152.6M416.4 1152.6l-11.6 2.0M416.9 1147.2l-5.8 1.0M394.9 1139.1L395.9 1161.1M395.9 1161.1l-11.2 3.5M395.6 1155.7l-5.6 1.8M371.4 1147.6L379.2 1168.2M379.2 1168.2l-9.6 6.9M377.3 1163.1l-4.8 3.4M347.9 1156.1L353.9 1177.3M353.9 1177.3l-10.1 6.0M352.4 1172.1l-5.1 3.0M324.4 1164.6L330.1 1185.9M330.1 1185.9l-10.2 5.9M328.7 1180.7l-5.1 2.9M300.9 1173.1L305.5 1194.7M305.5 1194.7l-10.5 5.3M304.3 1189.4l-5.3 2.7M277.4 1181.6L284.3 1202.5M284.3 1202.5l-9.9 6.4M282.6 1197.4l-4.9 3.2M253.9 1190.1L269.5 1205.6M269.5 1205.6l-5.9 10.2M425.7 1151.2L422.5 1173.0M422.5 1173.0l-11.7 1.3M423.3 1167.6l-5.9 0.7M402.2 1159.7L399.7 1181.6M399.7 1181.6l-11.7 1.7M400.3 1176.2l-5.8 0.9M378.7 1168.2L379.0 1190.2M379.0 1190.2l-11.4 3.2M378.9 1184.8l-5.7 1.6M355.2 1176.7L358.4 1198.5M358.4 1198.5l-10.8 4.6M357.6 1193.1l-5.4 2.3M331.7 1185.2L332.5 1207.2M332.5 1207.2l-11.3 3.4M332.3 1201.8l-5.6 1.7M308.2 1193.7L307.6 1215.7M307.6 1215.7l-11.5 2.7M307.8 1210.3l-5.7 1.4M284.7 1202.2L288.1 1223.9M288.1 1223.9l-10.8 4.7M287.2 1218.6l-5.4 2.4M261.2 1210.7L263.8 1232.5M263.8 1232.5l-11.0 4.4M263.2 1227.2l-5.5 2.2M433.0 1171.7L428.9 1193.3M428.9 1193.3l-11.8 0.8M429.9 1188.0l-5.9 0.4M409.5 1180.2L405.8 1201.9M405.8 1201.9l-11.7 1.0M406.7 1196.6l-5.9 0.5M386.0 1188.7L383.3 1210.6M383.3 1210.6l-11.7 1.6M383.9 1205.2l-5.8 0.8M315.5 1214.2L315.6 1236.2M315.6 1236.2l-11.4 3.1M315.6 1230.8l-5.7 1.5M416.8 1200.8L412.7 1222.4M412.7 1222.4l-11.8 0.8M413.7 1217.1l-5.9 0.4M393.3 1209.3L390.1 1231.0M390.1 1231.0l-11.7 1.4M390.9 1225.7l-5.9 0.7"/>
<path stroke="#008c00" d="M678.1 138.4L699.6 143.3M699.6 143.3l0.4 11.8M694.3 142.1l0.4 11.8M690.6 156.5L712.3 160.0M712.3 160.0l1.2 11.7M707.0 159.1l1.2 11.7M712.0 143.6L733.5 148.5M733.5 148.5l0.4 11.8M728.2 147.3l0.4 11.8M703.0 174.5L724.7 178.4M724.7 178.4l1.0 11.7M719.4 177.4l1.0 11.7M724.5 161.7L746.0 166.6M746.0 166.6l0.4 11.8M740.7 165.4l0.4 11.8M746.0 148.9L767.7 152.8M767.7 152.8l0.9 11.8M762.3 151.8l0.9 11.8M758.5 167.0L780.2 170.7M780.2 170.7l1.1 11.7M774.9 169.8l1.1 11.7M780.0 154.2L801.6 158.4M801.6 158.4l0.8 11.8M796.3 157.4l0.8 11.8M801.5 141.5L823.2 145.3M823.2 145.3l1.0 11.7M817.9 144.4l0.5 5.9M771.0 185.2L792.7 189.1M792.7 189.1l0.9 11.8M787.3 188.1l0.9 11.8M792.5 172.4L814.2 176.5M814.2 176.5l0.9 11.8M808.9 175.5l0.9 11.8M814.1 159.7L835.7 163.8M835.7 163.8l0.8 11.8M830.4 162.8l0.4 5.9M835.6 146.9L857.0 151.9M857.0 151.9l0.4 11.8M851.8 150.7l0.2 5.9M783.5 203.3L805.2 207.1M805.2 207.1l1.0 11.7M799.9 206.2l1.0 11.7M805.1 190.6L826.7 194.5M826.7 194.5l1.0 11.7M821.4 193.5l0.5 5.9M826.6 177.9L848.1 182.7M848.1 182.7l0.5 11.8M842.8 181.5l0.2 5.9M848.2 165.2L869.3 171.4M869.3 171.4l-0.3 11.8M864.1 169.9l-0.2 5.9M869.7 152.5L891.2 157.3M891.2 157.3l0.5 11.8M885.9 156.1l0.2 5.9M891.3 139.8L912.7 144.7M912.7 144.7l0.4 11.8M907.5 143.5l0.2 5.9M796.0 221.5L817.7 225.1M817.7 225.1l1.1 11.7M812.4 224.2l1.1 11.7M817.6 208.8L839.3 212.3M839.3 212.3l1.2 11.7M834.0 211.4l0.6 5.9M839.2 196.1L860.7 200.5M860.7 200.5l0.7 11.8M855.4 199.5l0.3 5.9M860.7 183.5L882.0 189.2M882.0 189.2l-0.1 11.8M876.8 187.8l-0.0 5.9M882.3 170.8L903.7 175.8M903.7 175.8l0.3 11.8M898.5 174.6l0.2 5.9M903.9 158.1L925.3 163.1M925.3 163.1l0.4 11.8M920.1 161.9l0.2 5.9M925.5 145.5L946.9 150.4M946.9 150.4l0.4 11.8M941.6 149.2l0.2 5.9M830.1 227.0L851.8 230.6M851.8 230.6l1.1 11.7M846.5 229.7l1.1 11.7M851.7 214.4L873.3 218.7M873.3 218.7l0.7 11.8M868.0 217.6l0.7 11.8M873.3 201.8L894.8 206.4M894.8 206.4l0.5 11.8M889.5 205.3l0.3 5.9M894.9 189.1L916.4 194.0M916.4 194.0l0.4 11.8M911.1 192.8l0.2 5.9M916.5 176.5L937.9 181.4M937.9 181.4l0.4 11.8M932.7 180.2l0.2 5.9M938.1 163.9L959.5 168.8M959.5 168.8l0.4 11.8M954.3 167.6l0.2 5.9M959.7 151.2L981.2 156.1M981.2 156.1l0.4 11.8M975.9 154.9l0.2 5.9M981.3 138.6L1002.9 142.8M1002.9 142.8l0.8 11.8M997.6 141.7l0.4 5.9M863.8 232.9L885.4 237.2M885.4 237.2l0.7 11.8M880.1 236.2l0.7 11.8M885.4 220.3L907.0 224.5M907.0 224.5l0.8 11.8M901.7 223.5l0.8 11.8M907.1 207.7L928.6 212.3M928.6 212.3l0.6 11.8M923.3 211.2l0.6 11.8M928.7 195.1L950.1 200.1M950.1 200.1l0.4 11.8M944.9 198.9l0.2 5.9M950.3 182.6L971.8 187.4M971.8 187.4l0.4 11.8M966.5 186.2l0.2 5.9M971.9 170.0L993.4 174.9M993.4 174.9l0.4 11.8M988.1 173.7l0.2 5.9M993.6 157.4L1015.2 161.7M1015.2 161.7l0.7 11.8M1009.9 160.6l0.4 5.9M1015.2 144.8L1036.7 149.5M1036.7 149.5l0.5 11.8M1031.4 148.4l0.2 5.9M897.5 238.9L918.9 244.1M918.9 244.1l0.2 11.8M913.7 242.8l0.2 11.8M919.2 226.4L940.6 231.4M940.6 231.4l0.3 11.8M935.3 230.2l0.3 11.8M940.8 213.8L962.2 219.1M962.2 219.1l0.2 11.8M956.9 217.8l0.2 11.8M962.5 201.3L983.8 206.7M983.8 206.7l0.1 11.8M978.6 205.4l0.1 5.9M984.1 188.7L1005.5 194.0M1005.5 194.0l0.2 11.8M1000.2 192.7l0.1 5.9M1005.8 176.2L1027.1 181.5M1027.1 181.5l0.1 11.8M1021.9 180.2l0.1 5.9M931.3 245.0L952.7 250.2M952.7 250.2l0.2 11.8M947.4 248.9l0.2 11.8M953.0 232.5L974.2 238.1M974.2 238.1l0.0 11.8M969.0 236.7l0.0 11.8M974.6 220.0L995.9 225.7M995.9 225.7l-0.0 11.8M990.7 224.3l-0.0 5.9M996.3 207.5L1017.5 213.5M1017.5 213.5l-0.2 11.8M1012.3 212.0l-0.1 5.9M1018.0 195.0L1039.2 200.7M1039.2 200.7l-0.0 11.8M1034.0 199.3l-0.0 5.9M1039.6 182.5L1060.9 188.2M1060.9 188.2l-0.0 11.8M1055.7 186.8l-0.0 5.9M965.1 251.2L986.4 256.6M986.4 256.6l0.1 11.8M981.2 255.3l0.0 5.9M986.8 238.7L1007.9 244.9M1007.9 244.9l-0.3 11.8M1002.7 243.4l-0.2 5.9M1008.5 226.3L1029.5 232.6M1029.5 232.6l-0.4 11.8M1024.4 231.0l-0.2 5.9M1030.2 213.8L1051.4 219.4M1051.4 219.4l-0.0 11.8M1046.2 218.1l-0.0 5.9M1051.9 201.3L1073.5 205.2M1073.5 205.2l1.0 11.7M1068.2 204.2l0.5 5.9M977.2 269.9L998.1 276.6M998.1 276.6l-0.6 11.8M993.0 275.0l-0.3 5.9M998.9 257.5L1019.7 264.8M1019.7 264.8l-1.0 11.7M1014.6 263.0l-0.5 5.9M1020.6 245.0L1041.5 252.2M1041.5 252.2l-0.9 11.8M1036.3 250.4l-0.4 5.9M1042.4 232.6L1063.1 239.9M1063.1 239.9l-1.0 11.7M1058.0 238.1l-0.5 5.9M989.3 288.6L1009.4 297.5M1009.4 297.5l-1.9 11.6M1004.5 295.3l-1.9 11.6M1011.1 276.2L1031.3 284.9M1031.3 284.9l-1.8 11.7M1026.3 282.8l-0.9 5.8M1032.8 263.8L1053.0 272.6M1053.0 272.6l-1.8 11.6M1048.0 270.5l-0.9 5.8M1054.6 251.4L1075.3 258.7M1075.3 258.7l-0.9 11.8M1070.2 256.9l-0.5 5.9M1001.5 307.3L1020.7 317.8M1020.7 317.8l-2.9 11.4M1016.0 315.2l-2.9 11.4M1023.2 294.9L1041.5 307.1M1041.5 307.1l-3.8 11.2M1037.1 304.1l-1.9 5.6M1045.0 282.6L1064.4 293.0M1064.4 293.0l-2.7 11.5M1059.6 290.4l-1.4 5.7M1066.8 270.2L1086.8 279.4M1086.8 279.4l-2.0 11.6M1081.8 277.2l-1.0 5.8M1035.4 313.7L1054.1 325.2M1054.1 325.2l-3.5 11.3M1049.5 322.4l-1.7 5.6M1057.2 301.3L1076.5 311.9M1076.5 311.9l-2.8 11.4M1071.7 309.3l-1.4 5.7M1079.0 289.0L1098.8 298.6M1098.8 298.6l-2.2 11.6M1093.9 296.2l-1.1 5.8M1025.7 344.6L1044.6 356.0M1044.6 356.0l-3.3 11.3M1039.9 353.2l-3.3 11.3M1047.5 332.4L1066.8 343.1M1066.8 343.1l-2.9 11.4M1062.0 340.4l-1.5 5.7M1069.3 320.1L1088.6 330.7M1088.6 330.7l-2.9 11.4M1083.9 328.1l-1.4 5.7M1091.1 307.9L1110.2 318.9M1110.2 318.9l-3.2 11.4M1105.5 316.2l-1.6 5.7M1113.0 295.6L1132.2 306.2M1132.2 306.2l-2.9 11.4M1127.5 303.6l-1.4 5.7M1037.8 363.3L1056.9 374.4M1056.9 374.4l-3.1 11.4M1052.2 371.7l-3.1 11.4M1059.7 351.1L1078.7 362.1M1078.7 362.1l-3.1 11.4M1074.0 359.4l-1.6 5.7M1081.5 338.9L1100.6 349.8M1100.6 349.8l-3.0 11.4M1095.9 347.1l-1.5 5.7M1103.3 326.7L1122.3 337.9M1122.3 337.9l-3.2 11.3M1117.6 335.1l-1.6 5.7M1125.2 314.5L1144.3 325.2M1144.3 325.2l-3.0 11.4M1139.6 322.6l-1.5 5.7M1147.0 302.2L1166.3 312.8M1166.3 312.8l-2.8 11.4M1161.6 310.2l-1.4 5.7M1071.8 369.8L1091.0 380.6M1091.0 380.6l-3.0 11.4M1086.3 378.0l-3.0 11.4M1093.7 357.7L1112.8 368.5M1112.8 368.5l-3.0 11.4M1108.1 365.9l-1.5 5.7M1115.5 345.5L1134.5 356.7M1134.5 356.7l-3.2 11.3M1129.8 354.0l-1.6 5.7M1137.4 333.3L1156.1 344.9M1156.1 344.9l-3.5 11.3M1151.5 342.1l-1.7 5.6M1159.3 321.1L1177.9 332.7M1177.9 332.7l-3.5 11.3M1173.4 329.9l-1.7 5.6M1181.1 309.0L1200.5 319.4M1200.5 319.4l-2.8 11.5M1195.7 316.8l-1.4 5.7M1084.0 388.6L1103.2 399.3M1103.2 399.3l-2.9 11.4M1098.5 396.6l-2.9 11.4M1105.8 376.4L1125.0 387.2M1125.0 387.2l-2.9 11.4M1120.3 384.5l-2.9 11.4M1127.7 364.3L1146.6 375.7M1146.6 375.7l-3.3 11.3M1141.9 372.9l-1.7 5.7M1149.6 352.2L1168.3 363.8M1168.3 363.8l-3.5 11.3M1163.7 361.0l-1.8 5.6M1171.5 340.0L1190.1 351.7M1190.1 351.7l-3.5 11.3M1185.6 348.8l-1.8 5.6M1193.4 327.9L1212.2 339.3M1212.2 339.3l-3.3 11.3M1207.6 336.5l-1.7 5.7M1095.6 407.6L1114.9 418.3M1114.9 418.3l-2.9 11.4M1110.1 415.7l-2.9 11.4M1117.5 395.5L1136.7 406.3M1136.7 406.3l-3.0 11.4M1132.0 403.7l-3.0 11.4M1139.4 383.4L1158.0 395.2M1158.0 395.2l-3.6 11.2M1153.4 392.3l-1.8 5.6M1161.3 371.3L1179.5 383.8M1179.5 383.8l-4.0 11.1M1175.0 380.8l-2.0 5.5M1183.2 359.2L1201.3 371.8M1201.3 371.8l-4.0 11.1M1196.9 368.7l-2.0 5.5M1205.1 347.1L1223.2 359.7M1223.2 359.7l-4.0 11.1M1218.8 356.6l-2.0 5.5M1107.2 426.7L1126.1 438.0M1126.1 438.0l-3.3 11.3M1121.5 435.2l-3.3 11.3M1129.2 414.6L1147.8 426.3M1147.8 426.3l-3.5 11.2M1143.2 423.5l-3.5 11.2M1151.1 402.6L1169.2 415.0M1169.2 415.0l-4.0 11.1M1164.8 412.0l-2.0 5.5M1173.0 390.5L1191.0 403.2M1191.0 403.2l-4.1 11.1M1186.6 400.1l-2.0 5.5M1194.9 378.5L1212.9 391.1M1212.9 391.1l-4.1 11.1M1208.5 388.0l-2.1 5.5M1118.8 445.8L1136.8 458.5M1136.8 458.5l-4.2 11.0M1132.4 455.4l-4.2 11.0M1140.8 433.8L1158.4 446.9M1158.4 446.9l-4.4 10.9M1154.1 443.7l-4.4 10.9M1162.7 421.8L1180.5 434.8M1180.5 434.8l-4.3 11.0M1176.1 431.6l-4.3 11.0M1184.7 409.7L1202.5 422.7M1202.5 422.7l-4.3 11.0M1198.1 419.5l-2.1 5.5M1206.6 397.7L1224.2 411.0M1224.2 411.0l-4.5 10.9M1219.9 407.7l-2.2 5.5M1130.4 464.9L1148.1 478.0M1148.1 478.0l-4.4 10.9M1143.7 474.8l-4.4 10.9M1152.4 452.9L1170.0 466.1M1170.0 466.1l-4.5 10.9M1165.7 462.9l-4.5 10.9M1174.4 440.9L1192.0 454.2M1192.0 454.2l-4.5 10.9M1187.6 450.9l-4.5 10.9M1196.4 429.0L1213.7 442.4M1213.7 442.4l-4.6 10.8M1209.5 439.1l-2.3 5.4M1218.3 417.0L1235.7 430.5M1235.7 430.5l-4.7 10.8M1231.4 427.2l-2.3 5.4M1142.0 483.9L1159.5 497.3M1159.5 497.3l-4.6 10.9M1155.2 494.0l-4.6 10.9M1164.0 472.0L1181.5 485.4M1181.5 485.4l-4.6 10.9M1177.2 482.1l-4.6 10.9M1186.0 460.1L1203.3 473.7M1203.3 473.7l-4.7 10.8M1199.1 470.3l-2.3 5.4M1208.0 448.2L1225.3 461.8M1225.3 461.8l-4.7 10.8M1221.1 458.4l-2.3 5.4M1230.0 436.2L1247.3 449.8M1247.3 449.8l-4.7 10.8M1243.1 446.5l-2.3 5.4M1252.0 424.3L1269.4 437.9M1269.4 437.9l-4.7 10.8M1265.1 434.5l-2.3 5.4M1153.1 503.3L1170.1 517.3M1170.1 517.3l-5.0 10.7M1165.9 513.9l-5.0 10.7M1175.2 491.4L1192.1 505.5M1192.1 505.5l-5.0 10.7M1187.9 502.0l-5.0 10.7M1197.2 479.6L1214.1 493.7M1214.1 493.7l-5.0 10.7M1209.9 490.2l-5.0 10.7M1219.2 467.7L1236.2 481.7M1236.2 481.7l-4.9 10.7M1232.0 478.2l-2.5 5.4M1241.2 455.8L1258.2 469.8M1258.2 469.8l-4.9 10.7M1254.0 466.3l-2.5 5.4M1263.2 443.9L1280.1 458.0M1280.1 458.0l-5.0 10.7M1276.0 454.6l-2.5 5.3M1163.7 523.0L1180.2 537.5M1180.2 537.5l-5.2 10.6M1176.2 533.9l-5.2 10.6M1185.7 511.2L1202.5 525.4M1202.5 525.4l-5.0 10.7M1198.4 521.9l-5.0 10.7M1207.8 499.3L1224.6 513.5M1224.6 513.5l-5.0 10.7M1220.5 510.0l-5.0 10.7M1229.8 487.5L1246.5 501.8M1246.5 501.8l-5.1 10.6M1242.4 498.3l-2.6 5.3M1251.8 475.7L1268.7 489.8M1268.7 489.8l-5.0 10.7M1264.6 486.3l-2.5 5.3M1174.2 542.7L1190.4 557.6M1190.4 557.6l-5.5 10.4M1186.4 554.0l-5.5 10.4M1196.3 530.9L1212.9 545.4M1212.9 545.4l-5.2 10.6M1208.8 541.8l-5.2 10.6M1218.3 519.1L1234.9 533.6M1234.9 533.6l-5.3 10.5M1230.8 530.1l-2.6 5.3M1240.4 507.3L1256.8 522.0M1256.8 522.0l-5.4 10.5M1252.8 518.4l-2.7 5.2M1262.5 495.6L1279.1 510.0M1279.1 510.0l-5.2 10.6M1275.0 506.5l-2.6 5.3M1184.7 562.4L1200.5 577.7M1200.5 577.7l-5.8 10.3M1196.7 574.0l-5.8 10.3M1206.8 550.7L1223.0 565.6M1223.0 565.6l-5.5 10.4M1219.0 561.9l-5.5 10.4M1228.9 538.9L1245.3 553.7M1245.3 553.7l-5.4 10.5M1241.3 550.0l-2.7 5.2M1251.0 527.2L1267.4 541.9M1267.4 541.9l-5.4 10.5M1263.4 538.3l-2.7 5.2M1273.1 515.4L1289.5 530.1M1289.5 530.1l-5.3 10.5M1285.5 526.5l-2.7 5.3M1195.3 582.1L1210.9 597.7M1210.9 597.7l-5.9 10.2M1207.0 593.9l-5.9 10.2M1217.4 570.4L1233.1 585.8M1233.1 585.8l-5.8 10.2M1229.3 582.1l-2.9 5.1M1239.5 558.7L1255.5 573.8M1255.5 573.8l-5.6 10.4M1251.6 570.1l-2.8 5.2M1261.6 547.0L1277.9 561.8M1277.9 561.8l-5.5 10.4M1273.9 558.2l-2.7 5.2M1183.7 613.5L1198.5 629.8M1198.5 629.8l-6.4 9.9M1194.9 625.8l-6.4 9.9M1205.8 601.9L1221.3 617.5M1221.3 617.5l-6.0 10.1M1217.5 613.7l-3.0 5.1M1228.0 590.2L1243.5 605.7M1243.5 605.7l-5.9 10.2M1239.7 601.9l-3.0 5.1M1250.1 578.5L1265.7 594.0M1265.7 594.0l-5.9 10.2M1261.9 590.2l-3.0 5.1M1272.2 566.9L1288.1 582.1M1288.1 582.1l-5.7 10.3M1284.2 578.4l-2.9 5.1M1172.0 644.8L1186.2 661.6M1186.2 661.6l-6.8 9.6M1182.7 657.5l-6.8 9.6M1194.2 633.2L1208.6 649.8M1208.6 649.8l-6.7 9.7M1205.1 645.7l-6.7 9.7M1216.4 621.6L1231.6 637.4M1231.6 637.4l-6.1 10.1M1227.9 633.5l-3.1 5.0M1238.5 609.9L1254.1 625.5M1254.1 625.5l-6.0 10.2M1250.2 621.7l-3.0 5.1M1260.7 598.3L1276.2 613.9M1276.2 613.9l-6.0 10.2M1272.4 610.1l-3.0 5.1M1182.6 664.4L1196.1 681.7M1196.1 681.7l-7.1 9.4M1192.8 677.5l-3.6 4.7M1204.8 652.8L1218.3 670.2M1218.3 670.2l-7.2 9.4M1215.0 665.9l-3.6 4.7M1226.9 641.2L1241.3 657.9M1241.3 657.9l-6.7 9.7M1237.8 653.8l-3.3 4.9M1249.1 629.7L1264.5 645.4M1264.5 645.4l-6.0 10.1M1260.7 641.5l-3.0 5.1M1271.3 618.1L1286.9 633.7M1286.9 633.7l-5.9 10.2M1283.0 629.8l-3.0 5.1M1173.0 694.2L1186.5 711.6M1186.5 711.6l-7.2 9.4M1183.2 707.3l-7.2 9.4M1195.2 682.6L1208.8 700.0M1208.8 700.0l-7.2 9.4M1205.4 695.7l-3.6 4.7M1217.4 671.1L1230.5 688.8M1230.5 688.8l-7.4 9.2M1227.3 684.5l-3.7 4.6M1239.6 659.6L1253.0 677.1M1253.0 677.1l-7.3 9.3M1249.7 672.8l-3.6 4.6M1261.9 648.0L1276.6 664.4M1276.6 664.4l-6.5 9.9M1272.9 660.4l-3.2 4.9M1185.7 712.4L1198.9 730.0M1198.9 730.0l-7.3 9.2M1195.6 725.7l-7.3 9.2M1207.9 700.9L1220.9 718.7M1220.9 718.7l-7.4 9.1M1217.7 714.3l-3.7 4.6M1230.1 689.4L1242.8 707.4M1242.8 707.4l-7.6 9.0M1239.7 703.0l-3.8 4.5M1252.4 677.9L1264.7 696.1M1264.7 696.1l-7.8 8.9M1261.7 691.7l-3.9 4.4M1176.1 742.1L1188.7 760.1M1188.7 760.1l-7.6 9.0M1185.6 755.7l-7.6 9.0M1198.3 730.6L1211.1 748.5M1211.1 748.5l-7.5 9.1M1208.0 744.1l-3.8 4.5M1220.6 719.2L1233.2 737.2M1233.2 737.2l-7.6 9.0M1230.1 732.8l-3.8 4.5M1242.8 707.7L1254.7 726.2M1254.7 726.2l-8.0 8.7M1251.8 721.7l-4.0 4.3M1265.1 696.3L1277.6 714.3M1277.6 714.3l-7.7 9.0M1274.5 709.9l-3.8 4.5M1164.8 772.7L1176.5 791.3M1176.5 791.3l-8.0 8.6M1173.7 786.7l-8.0 8.6M1187.0 761.3L1198.9 779.8M1198.9 779.8l-8.0 8.7M1196.0 775.3l-4.0 4.3M1209.3 749.9L1221.5 768.2M1221.5 768.2l-7.8 8.8M1218.5 763.7l-3.9 4.4M1231.6 738.5L1243.9 756.7M1243.9 756.7l-7.8 8.9M1240.9 752.2l-3.9 4.4M1253.9 727.1L1266.1 745.4M1266.1 745.4l-7.8 8.8M1263.1 740.9l-3.9 4.4M1153.3 803.3L1164.8 822.1M1164.8 822.1l-8.1 8.5M1162.0 817.5l-8.1 8.5M1175.6 792.0L1187.2 810.7M1187.2 810.7l-8.1 8.6M1184.3 806.1l-4.0 4.3M1197.9 780.6L1209.5 799.3M1209.5 799.3l-8.1 8.6M1206.6 794.7l-4.0 4.3M1220.1 769.3L1232.0 787.8M1232.0 787.8l-8.0 8.7M1229.1 783.2l-4.0 4.3M1242.4 757.9L1254.6 776.3M1254.6 776.3l-7.9 8.8M1251.6 771.7l-3.9 4.4M1264.7 746.5L1277.0 764.8M1277.0 764.8l-7.8 8.8M1274.0 760.3l-3.9 4.4M1141.7 833.9L1152.9 852.9M1152.9 852.9l-8.3 8.4M1150.2 848.2l-8.3 8.4M1164.0 822.6L1175.3 841.5M1175.3 841.5l-8.3 8.4M1172.5 836.9l-8.3 8.4M1186.3 811.3L1197.9 830.0M1197.9 830.0l-8.1 8.5M1195.1 825.4l-4.1 4.3M1208.7 799.9L1220.3 818.6M1220.3 818.6l-8.1 8.6M1217.4 814.0l-4.0 4.3M1231.0 788.6L1242.6 807.3M1242.6 807.3l-8.1 8.6M1239.7 802.7l-4.0 4.3M1253.3 777.3L1265.1 795.9M1265.1 795.9l-8.0 8.6M1262.2 791.3l-4.0 4.3M1152.5 853.1L1163.5 872.2M1163.5 872.2l-8.4 8.3M1160.8 867.5l-4.2 4.1M1174.8 841.8L1185.8 860.9M1185.8 860.9l-8.4 8.3M1183.1 856.2l-4.2 4.1M1197.1 830.6L1208.3 849.5M1208.3 849.5l-8.3 8.4M1205.5 844.9l-4.2 4.2M1219.5 819.3L1231.1 838.0M1231.1 838.0l-8.1 8.6M1228.2 833.4l-4.1 4.3M1241.8 808.0L1253.5 826.7M1253.5 826.7l-8.1 8.6M1250.6 822.1l-4.0 4.3M1264.1 796.7L1275.8 815.4M1275.8 815.4l-8.1 8.6M1272.9 810.8l-4.0 4.3M1140.8 883.5L1151.6 902.7M1151.6 902.7l-8.5 8.2M1149.0 898.0l-8.5 8.2M1163.2 872.3L1174.0 891.5M1174.0 891.5l-8.5 8.2M1171.3 886.8l-8.5 8.2M1185.6 861.1L1196.0 880.4M1196.0 880.4l-8.6 8.1M1193.4 875.7l-4.3 4.0M1207.9 849.8L1218.5 869.1M1218.5 869.1l-8.5 8.1M1215.9 864.4l-4.3 4.1M1230.3 838.6L1241.8 857.4M1241.8 857.4l-8.1 8.5M1239.0 852.8l-4.1 4.3M1252.6 827.4L1264.3 846.0M1264.3 846.0l-8.1 8.6M1261.4 841.5l-4.0 4.3M1151.6 902.7L1161.4 922.4M1161.4 922.4l-8.8 7.8M1159.0 917.5l-8.8 7.8M1173.9 891.5L1183.8 911.2M1183.8 911.2l-8.8 7.8M1181.4 906.3l-4.4 3.9M1196.3 880.3L1206.6 899.7M1206.6 899.7l-8.7 8.0M1204.1 895.0l-4.3 4.0M1218.7 869.1L1229.2 888.5M1229.2 888.5l-8.6 8.1M1226.6 883.7l-4.3 4.0M1241.1 857.9L1252.3 876.9M1252.3 876.9l-8.3 8.4M1249.6 872.2l-4.1 4.2M1263.5 846.8L1274.9 865.6M1274.9 865.6l-8.2 8.5M1272.1 860.9l-4.1 4.2M1139.9 933.0L1148.8 953.1M1148.8 953.1l-9.2 7.4M1146.6 948.2l-9.2 7.4M1162.3 921.8L1170.5 942.2M1170.5 942.2l-9.4 7.1M1168.5 937.2l-4.7 3.5M1184.7 910.7L1193.6 930.8M1193.6 930.8l-9.2 7.4M1191.4 925.9l-4.6 3.7M1207.1 899.6L1217.3 919.0M1217.3 919.0l-8.7 8.0M1214.8 914.3l-4.3 4.0M1229.5 888.4L1240.6 907.4M1240.6 907.4l-8.3 8.4M1237.9 902.7l-4.2 4.2M1251.9 877.3L1263.0 896.3M1263.0 896.3l-8.3 8.3M1260.2 891.6l-4.2 4.2M1150.6 952.1L1157.9 972.8M1157.9 972.8l-9.7 6.6M1156.1 967.8l-4.9 3.3M1173.0 941.0L1180.5 961.7M1180.5 961.7l-9.7 6.7M1178.7 956.6l-4.8 3.4M1183.7 960.2L1191.2 980.8M1191.2 980.8l-9.7 6.7M1189.4 975.8l-4.8 3.4M80.0 219.0L101.8 221.7M101.8 221.7l1.6 11.7M96.5 221.0l0.8 5.8M88.2 239.2L110.1 241.9M110.1 241.9l1.6 11.7M104.7 241.2l0.8 5.8M96.5 259.4L118.3 262.1M118.3 262.1l1.6 11.7M112.9 261.4l0.8 5.8M82.5 267.4L104.2 270.4M104.2 270.4l1.4 11.7M98.9 269.7l0.7 5.9M104.7 279.6L126.6 281.5M126.6 281.5l2.0 11.6M121.2 281.0l1.0 5.8M90.7 287.6L112.6 289.5M112.6 289.5l2.0 11.6M107.2 289.0l1.0 5.8M112.9 299.8L134.8 301.6M134.8 301.6l2.0 11.6M129.4 301.2l1.0 5.8M98.9 307.8L120.9 308.6M120.9 308.6l2.6 11.5M115.5 308.4l1.3 5.8M121.1 319.9L143.1 321.0M143.1 321.0l2.4 11.5M137.7 320.8l1.2 5.8M107.1 327.9L129.1 328.7M129.1 328.7l2.6 11.5M123.7 328.5l1.3 5.7M83.6 336.4L105.6 338.3M105.6 338.3l2.0 11.6M100.2 337.9l1.0 5.8M129.4 340.1L151.4 339.4M151.4 339.4l3.4 11.3M146.0 339.6l1.7 5.6M115.4 348.1L137.4 347.4M137.4 347.4l3.4 11.3M132.0 347.6l1.7 5.6M91.9 356.6L113.9 357.4M113.9 357.4l2.6 11.5M108.5 357.2l1.3 5.7M137.6 360.3L159.6 359.5M159.6 359.5l3.4 11.3M154.2 359.7l3.4 11.3M123.6 368.3L145.5 366.5M145.5 366.5l4.0 11.1M140.1 366.9l4.0 11.1M100.1 376.8L122.1 376.8M122.1 376.8l3.0 11.4M116.7 376.8l1.5 5.7M145.8 380.5L167.7 378.6M167.7 378.6l4.0 11.1M162.4 379.1l4.0 11.1M131.8 388.5L153.7 386.6M153.7 386.6l4.0 11.1M148.4 387.1l4.0 11.1M108.3 397.0L130.3 397.0M130.3 397.0l3.0 11.4M124.9 397.0l1.5 5.7M84.8 405.5L106.8 406.6M106.8 406.6l2.4 11.5M101.4 406.3l1.2 5.8M154.0 400.7L176.0 398.8M176.0 398.8l4.0 11.1M170.6 399.2l4.0 11.1M140.0 408.7L162.0 406.8M162.0 406.8l4.0 11.1M156.6 407.2l4.0 11.1M116.5 417.2L138.5 416.1M138.5 416.1l3.6 11.2M133.1 416.3l1.8 5.6M93.0 425.7L115.0 426.8M115.0 426.8l2.4 11.5M109.6 426.5l1.2 5.8M162.3 420.9L184.2 419.0M184.2 419.0l4.0 11.1M178.8 419.4l4.0 11.1M148.3 428.9L170.2 427.0M170.2 427.0l4.0 11.1M164.8 427.4l4.0 11.1M124.8 437.4L146.7 435.5M146.7 435.5l4.0 11.1M141.3 436.0l4.0 11.1M101.3 445.9L123.3 445.9M123.3 445.9l3.0 11.4M117.9 445.9l1.5 5.7M170.5 441.1L192.4 439.1M192.4 439.1l4.0 11.1M187.0 439.6l4.0 11.1M156.5 449.1L178.4 446.9M178.4 446.9l4.1 11.0M173.0 447.4l4.1 11.0M133.0 457.6L154.9 455.0M154.9 455.0l4.3 11.0M149.5 455.6l2.2 5.5M109.5 466.1L131.5 464.6M131.5 464.6l3.8 11.2M126.1 465.0l1.9 5.6M86.0 474.6L108.0 474.5M108.0 474.5l3.0 11.4M102.6 474.5l3.0 11.4M178.7 461.3L200.3 456.8M200.3 456.8l5.2 10.6M195.0 457.9l2.6 5.3M164.7 469.3L186.2 464.3M186.2 464.3l5.5 10.4M180.9 465.5l2.7 5.2M141.2 477.8L163.0 474.7M163.0 474.7l4.6 10.9M157.7 475.4l2.3 5.4M117.7 486.3L139.6 484.0M139.6 484.0l4.2 11.0M134.2 484.5l2.1 5.5M94.2 494.8L116.2 493.2M116.2 493.2l3.8 11.2M110.8 493.6l1.9 5.6M187.0 481.4L207.7 474.0M207.7 474.0l6.7 9.7M202.6 475.8l3.3 4.9M173.0 489.4L193.8 482.3M193.8 482.3l6.5 9.8M188.7 484.1l3.3 4.9M149.5 497.9L171.0 493.3M171.0 493.3l5.3 10.5M165.7 494.5l2.7 5.3M126.0 506.4L147.8 503.6M147.8 503.6l4.4 10.9M142.4 504.3l2.2 5.5M102.5 514.9L124.3 512.3M124.3 512.3l4.3 11.0M118.9 513.0l2.2 5.5M195.6 501.5L216.1 493.6M216.1 493.6l6.9 9.6M211.1 495.5l3.4 4.8M181.6 509.5L202.4 502.2M202.4 502.2l6.6 9.8M197.3 504.0l3.3 4.9M158.1 518.0L179.5 513.0M179.5 513.0l5.5 10.4M174.2 514.2l2.8 5.2M134.6 526.5L156.2 522.5M156.2 522.5l5.0 10.7M150.9 523.4l2.5 5.3M111.1 535.0L133.0 532.7M133.0 532.7l4.2 11.0M127.6 533.2l2.1 5.5M204.3 521.5L224.6 513.1M224.6 513.1l7.1 9.4M219.6 515.2l3.6 4.7M190.3 529.5L210.6 521.1M210.6 521.1l7.1 9.4M205.6 523.1l3.6 4.7M166.8 538.0L188.0 532.2M188.0 532.2l5.9 10.2M182.8 533.6l2.9 5.1M143.3 546.5L164.8 542.2M164.8 542.2l5.2 10.6M159.5 543.2l2.6 5.3M362.5 1197.2L360.7 1219.2M360.7 1219.2l-11.6 2.1M361.1 1213.8l-5.8 1.0M339.0 1205.7L338.2 1227.7M338.2 1227.7l-11.5 2.6M338.4 1222.3l-5.7 1.3M440.3 1192.3L435.3 1213.7M435.3 1213.7l-11.8 0.4M436.6 1208.5l-5.9 0.2M447.6 1212.8L442.6 1234.3M442.6 1234.3l-11.8 0.4M443.9 1229.0l-5.9 0.2"/>
<path stroke="#f8d000" d="M656.7 151.3L678.5 154.0M678.5 154.0l1.6 11.7M673.2 153.3l1.6 11.7M669.1 169.3L690.9 172.4M690.9 172.4l1.4 11.7M685.6 171.6l1.4 11.7M681.6 187.4L703.4 189.7M703.4 189.7l1.8 11.7M698.1 189.1l1.8 11.7M694.0 205.4L715.8 208.4M715.8 208.4l1.4 11.7M710.4 207.7l1.4 11.7M715.5 192.6L736.9 197.5M736.9 197.5l0.4 11.8M731.7 196.3l0.4 11.8M737.0 179.8L758.5 184.3M758.5 184.3l0.6 11.8M753.3 183.2l0.6 11.8M706.4 223.4L728.2 226.1M728.2 226.1l1.6 11.7M722.9 225.5l1.6 11.7M727.9 210.7L749.6 214.6M749.6 214.6l0.9 11.8M744.3 213.7l0.9 11.8M749.5 197.9L771.1 201.8M771.1 201.8l1.0 11.7M765.8 200.8l1.0 11.7M718.8 241.5L740.6 244.9M740.6 244.9l1.2 11.7M735.2 244.1l1.2 11.7M729.9 243.2l0.6 5.9M740.4 228.8L762.1 232.3M762.1 232.3l1.1 11.7M756.8 231.4l1.1 11.7M751.4 230.6l0.6 5.9M762.0 216.0L783.6 219.9M783.6 219.9l1.0 11.7M778.3 218.9l1.0 11.7M731.3 259.5L752.9 263.3M752.9 263.3l1.0 11.7M747.6 262.4l1.0 11.7M742.3 261.4l0.5 5.9M752.8 246.8L774.5 250.7M774.5 250.7l0.9 11.8M769.2 249.8l0.9 11.8M763.9 248.8l0.5 5.9M774.4 234.2L796.1 238.1M796.1 238.1l0.9 11.8M790.8 237.1l0.9 11.8M743.7 277.5L765.1 282.4M765.1 282.4l0.4 11.8M759.9 281.2l0.4 11.8M754.6 280.0l0.2 5.9M765.3 264.9L787.0 268.7M787.0 268.7l1.0 11.7M781.6 267.8l1.0 11.7M776.3 266.9l0.5 5.9M786.9 252.3L808.5 256.3M808.5 256.3l0.9 11.8M803.2 255.3l0.9 11.8M808.5 239.6L830.2 243.5M830.2 243.5l1.0 11.7M824.8 242.6l1.0 11.7M755.7 295.8L777.2 300.3M777.2 300.3l0.7 11.8M772.0 299.2l0.7 11.8M766.7 298.1l0.3 5.9M777.3 283.3L798.9 287.4M798.9 287.4l0.8 11.8M793.6 286.3l0.8 11.8M788.3 285.3l0.4 5.9M798.9 270.7L820.5 274.9M820.5 274.9l0.8 11.8M815.2 273.8l0.8 11.8M820.6 258.1L842.2 262.2M842.2 262.2l0.8 11.8M836.9 261.2l0.8 11.8M842.2 245.5L863.8 249.5M863.8 249.5l0.9 11.8M858.5 248.5l0.9 11.8M767.6 314.2L789.3 318.0M789.3 318.0l1.0 11.7M784.0 317.1l1.0 11.7M778.7 316.2l0.5 5.9M789.3 301.7L810.9 305.9M810.9 305.9l0.7 11.8M805.6 304.9l0.7 11.8M800.3 303.8l0.4 5.9M810.9 289.1L832.5 293.5M832.5 293.5l0.7 11.8M827.2 292.4l0.7 11.8M832.6 276.6L854.2 280.8M854.2 280.8l0.8 11.8M848.9 279.7l0.8 11.8M854.2 264.0L875.9 268.1M875.9 268.1l0.8 11.8M870.5 267.1l0.8 11.8M875.9 251.5L897.4 256.2M897.4 256.2l0.5 11.8M892.1 255.0l0.5 11.8M779.6 332.6L801.2 336.4M801.2 336.4l1.0 11.7M795.9 335.5l1.0 11.7M790.6 334.5l0.5 5.9M801.2 320.1L822.6 325.3M822.6 325.3l0.2 11.8M817.4 324.0l0.2 11.8M812.1 322.7l0.1 5.9M822.9 307.5L844.4 312.5M844.4 312.5l0.4 11.8M839.1 311.3l0.4 11.8M833.8 310.1l0.2 5.9M844.6 295.0L866.2 299.4M866.2 299.4l0.7 11.8M860.9 298.3l0.7 11.8M866.3 282.5L888.0 286.0M888.0 286.0l1.1 11.7M882.7 285.2l1.1 11.7M887.9 270.0L909.4 274.9M909.4 274.9l0.4 11.8M904.1 273.7l0.4 11.8M909.6 257.5L930.7 263.9M930.7 263.9l-0.4 11.8M925.5 262.4l-0.4 11.8M813.2 338.5L834.8 342.5M834.8 342.5l0.8 11.8M829.5 341.5l0.8 11.8M824.2 340.5l0.4 5.9M834.9 326.0L856.3 331.3M856.3 331.3l0.2 11.8M851.0 330.0l0.2 11.8M845.8 328.7l0.1 5.9M856.6 313.5L878.0 318.6M878.0 318.6l0.3 11.8M872.8 317.3l0.3 11.8M867.5 316.1l0.1 5.9M878.3 301.1L899.8 305.9M899.8 305.9l0.4 11.8M894.5 304.7l0.4 11.8M900.0 288.6L921.4 293.9M921.4 293.9l0.2 11.8M916.1 292.6l0.2 11.8M921.7 276.1L942.9 281.9M942.9 281.9l-0.1 11.8M937.7 280.5l-0.1 11.8M943.4 263.7L964.7 269.0M964.7 269.0l0.1 11.8M959.5 267.7l0.1 11.8M846.9 344.4L868.1 350.3M868.1 350.3l-0.1 11.8M862.9 348.8l-0.1 11.8M857.7 347.4l-0.1 5.9M868.6 332.0L889.8 338.0M889.8 338.0l-0.2 11.8M884.6 336.5l-0.2 11.8M879.4 335.1l-0.1 5.9M890.3 319.6L911.2 326.6M911.2 326.6l-0.8 11.8M906.1 324.8l-0.8 11.8M901.0 323.1l-0.4 5.9M912.1 307.2L933.0 313.9M933.0 313.9l-0.7 11.8M927.8 312.3l-0.7 11.8M933.8 294.7L954.8 301.1M954.8 301.1l-0.4 11.8M949.7 299.5l-0.4 11.8M955.5 282.3L976.5 288.8M976.5 288.8l-0.5 11.8M971.3 287.2l-0.5 11.8M902.4 338.1L923.2 345.1M923.2 345.1l-0.8 11.8M918.1 343.4l-0.8 11.8M913.0 341.6l-0.4 5.9M924.1 325.7L944.9 332.8M944.9 332.8l-0.8 11.8M939.8 331.1l-0.8 11.8M934.7 329.3l-0.4 5.9M945.8 313.3L966.9 319.9M966.9 319.9l-0.5 11.8M961.7 318.3l-0.5 11.8M967.6 301.0L988.3 308.4M988.3 308.4l-1.0 11.7M983.2 306.6l-1.0 11.7M914.4 356.6L935.1 364.1M935.1 364.1l-1.1 11.7M930.0 362.3l-1.1 11.7M924.9 360.5l-0.5 5.9M936.2 344.3L956.8 351.8M956.8 351.8l-1.1 11.7M951.8 349.9l-1.1 11.7M946.7 348.1l-0.5 5.9M957.9 331.9L978.7 339.3M978.7 339.3l-1.0 11.7M973.6 337.5l-1.0 11.7M968.5 335.7l-0.5 5.9M979.7 319.6L999.7 328.8M999.7 328.8l-2.1 11.6M994.8 326.6l-2.1 11.6M948.2 362.9L968.9 370.3M968.9 370.3l-1.0 11.7M963.8 368.5l-1.0 11.7M958.8 366.7l-0.5 5.9M970.0 350.6L990.2 359.3M990.2 359.3l-1.8 11.7M985.2 357.1l-1.8 11.7M980.3 355.0l-0.9 5.8M991.8 338.3L1011.5 348.0M1011.5 348.0l-2.4 11.5M1006.7 345.6l-2.4 11.5M1013.6 326.0L1033.2 335.9M1033.2 335.9l-2.5 11.5M1028.4 333.4l-2.5 11.5M960.3 381.4L980.8 389.2M980.8 389.2l-1.3 11.7M975.8 387.3l-1.3 11.7M970.7 385.4l-0.6 5.9M982.1 369.2L1001.7 379.2M1001.7 379.2l-2.5 11.5M996.8 376.7l-2.5 11.5M992.0 374.3l-1.3 5.8M1003.9 356.9L1023.2 367.5M1023.2 367.5l-2.8 11.4M1018.5 364.9l-2.8 11.4M972.3 400.0L992.3 409.2M992.3 409.2l-2.0 11.6M987.4 406.9l-2.0 11.6M982.5 404.7l-1.0 5.8M994.2 387.8L1013.6 398.0M1013.6 398.0l-2.6 11.5M1008.9 395.5l-2.6 11.5M1004.1 393.0l-1.3 5.7M1016.0 375.5L1035.2 386.3M1035.2 386.3l-3.0 11.4M1030.5 383.7l-3.0 11.4M984.4 418.5L1004.0 428.5M1004.0 428.5l-2.5 11.5M999.2 426.1l-2.5 11.5M994.4 423.6l-1.2 5.8M1006.2 406.4L1024.8 418.2M1024.8 418.2l-3.6 11.2M1020.2 415.3l-3.6 11.2M1028.1 394.2L1046.9 405.6M1046.9 405.6l-3.3 11.3M1042.3 402.8l-3.3 11.3M1050.0 382.0L1069.5 392.1M1069.5 392.1l-2.6 11.5M1064.7 389.7l-2.6 11.5M996.4 437.1L1015.5 448.1M1015.5 448.1l-3.1 11.4M1010.8 445.4l-3.1 11.4M1006.2 442.7l-1.5 5.7M1018.3 425.0L1037.0 436.7M1037.0 436.7l-3.5 11.3M1032.4 433.8l-3.5 11.3M1040.2 412.8L1058.9 424.4M1058.9 424.4l-3.4 11.3M1054.3 421.5l-3.4 11.3M1062.1 400.7L1081.2 411.6M1081.2 411.6l-3.0 11.4M1076.5 408.9l-3.0 11.4M986.1 468.1L1004.6 480.0M1004.6 480.0l-3.6 11.2M1000.1 477.1l-3.6 11.2M995.5 474.1l-1.8 5.6M1008.0 456.0L1026.4 468.0M1026.4 468.0l-3.7 11.2M1021.9 465.0l-3.7 11.2M1017.4 462.1l-1.9 5.6M1029.9 443.9L1048.5 455.6M1048.5 455.6l-3.5 11.3M1044.0 452.7l-3.5 11.3M1051.8 431.8L1070.5 443.5M1070.5 443.5l-3.5 11.3M1065.9 440.6l-3.5 11.3M1073.7 419.7L1092.6 430.9M1092.6 430.9l-3.2 11.3M1088.0 428.2l-3.2 11.3M997.6 487.0L1015.9 499.2M1015.9 499.2l-3.8 11.1M1011.4 496.2l-3.8 11.1M1006.9 493.2l-1.9 5.6M1019.5 474.9L1037.8 487.1M1037.8 487.1l-3.8 11.2M1033.3 484.1l-3.8 11.2M1028.8 481.1l-1.9 5.6M1041.4 462.9L1059.8 474.9M1059.8 474.9l-3.7 11.2M1055.3 472.0l-3.7 11.2M1050.8 469.0l-1.9 5.6M1063.4 450.8L1081.8 462.9M1081.8 462.9l-3.8 11.2M1077.2 459.9l-3.8 11.2M1085.3 438.7L1103.9 450.6M1103.9 450.6l-3.6 11.2M1099.3 447.7l-3.6 11.2M1009.1 505.8L1027.2 518.2M1027.2 518.2l-4.0 11.1M1022.8 515.2l-4.0 11.1M1018.3 512.1l-2.0 5.6M1031.0 493.8L1049.1 506.3M1049.1 506.3l-4.0 11.1M1044.7 503.3l-4.0 11.1M1040.2 500.2l-2.0 5.5M1053.0 481.8L1070.9 494.6M1070.9 494.6l-4.2 11.0M1066.5 491.4l-4.2 11.0M1074.9 469.8L1092.8 482.7M1092.8 482.7l-4.3 11.0M1088.4 479.5l-4.3 11.0M1096.9 457.8L1114.9 470.4M1114.9 470.4l-4.1 11.1M1110.5 467.3l-4.1 11.1M1020.6 524.7L1038.8 537.0M1038.8 537.0l-3.9 11.1M1034.3 534.0l-3.9 11.1M1029.8 531.0l-1.9 5.6M1042.5 512.7L1060.5 525.4M1060.5 525.4l-4.1 11.0M1056.1 522.3l-4.1 11.0M1051.7 519.2l-2.1 5.5M1064.5 500.8L1082.3 513.7M1082.3 513.7l-4.3 11.0M1078.0 510.5l-4.3 11.0M1073.6 507.3l-2.1 5.5M1086.5 488.8L1104.3 501.7M1104.3 501.7l-4.3 11.0M1099.9 498.6l-4.3 11.0M1108.5 476.8L1126.2 489.8M1126.2 489.8l-4.3 11.0M1121.9 486.6l-4.3 11.0M1010.1 555.5L1027.8 568.5M1027.8 568.5l-4.3 11.0M1023.5 565.3l-4.3 11.0M1019.1 562.1l-2.2 5.5M1054.1 531.6L1071.5 545.0M1071.5 545.0l-4.5 10.9M1067.2 541.7l-4.5 10.9M1063.0 538.4l-2.3 5.4M1076.1 519.7L1093.5 533.1M1093.5 533.1l-4.6 10.9M1089.2 529.8l-4.6 10.9M1084.9 526.5l-2.3 5.4M1098.0 507.8L1115.5 521.2M1115.5 521.2l-4.6 10.9M1111.2 517.9l-4.6 10.9M1120.0 495.9L1137.5 509.3M1137.5 509.3l-4.6 10.9M1133.2 506.0l-4.6 10.9M999.0 586.5L1016.8 599.4M1016.8 599.4l-4.3 11.0M1012.4 596.3l-4.3 11.0M1008.0 593.1l-2.1 5.5M1021.0 574.6L1038.7 587.8M1038.7 587.8l-4.4 10.9M1034.3 584.5l-4.4 10.9M1030.0 581.3l-2.2 5.5M1065.1 550.8L1082.2 564.6M1082.2 564.6l-4.8 10.8M1078.0 561.2l-4.8 10.8M1073.8 557.8l-2.4 5.4M1087.1 539.0L1103.9 553.1M1103.9 553.1l-5.1 10.7M1099.8 549.7l-5.1 10.7M1095.6 546.2l-2.5 5.3M1109.1 527.1L1125.5 541.8M1125.5 541.8l-5.4 10.5M1121.4 538.2l-5.4 10.5M1131.1 515.2L1147.7 529.6M1147.7 529.6l-5.2 10.6M1143.7 526.1l-5.2 10.6M1009.4 605.9L1027.2 618.8M1027.2 618.8l-4.3 11.0M1022.8 615.6l-4.3 11.0M1018.4 612.5l-2.1 5.5M1031.4 594.1L1049.6 606.4M1049.6 606.4l-3.9 11.1M1045.2 603.4l-3.9 11.1M1053.5 582.2L1070.8 595.7M1070.8 595.7l-4.6 10.8M1066.5 592.4l-4.6 10.8M1062.3 589.1l-2.3 5.4M1075.5 570.4L1092.6 584.3M1092.6 584.3l-4.9 10.7M1088.4 580.9l-4.9 10.7M1084.2 577.4l-2.4 5.4M1097.5 558.5L1113.5 573.7M1113.5 573.7l-5.7 10.3M1109.6 570.0l-5.7 10.3M1119.6 546.7L1135.2 562.2M1135.2 562.2l-5.9 10.2M1131.4 558.4l-5.9 10.2M1141.6 534.9L1157.5 550.1M1157.5 550.1l-5.7 10.3M1153.6 546.3l-5.7 10.3M1019.7 625.3L1037.1 638.8M1037.1 638.8l-4.6 10.8M1032.9 635.5l-4.6 10.8M1028.6 632.2l-2.3 5.4M1063.9 601.7L1080.6 616.0M1080.6 616.0l-5.1 10.6M1076.5 612.5l-5.1 10.6M1072.4 609.0l-2.6 5.3M1085.9 589.9L1102.5 604.4M1102.5 604.4l-5.3 10.5M1098.4 600.9l-5.3 10.5M1094.4 597.3l-2.6 5.3M1108.0 578.1L1123.6 593.6M1123.6 593.6l-5.9 10.2M1119.8 589.8l-5.9 10.2M1130.1 566.3L1145.6 581.9M1145.6 581.9l-5.9 10.2M1141.8 578.1l-5.9 10.2M1152.1 554.5L1167.8 570.0M1167.8 570.0l-5.9 10.2M1163.9 566.2l-5.9 10.2M1096.4 609.4L1111.9 625.0M1111.9 625.0l-6.0 10.2M1108.1 621.2l-6.0 10.2M1104.3 617.4l-3.0 5.1M1118.5 597.7L1133.8 613.5M1133.8 613.5l-6.1 10.1M1130.0 609.6l-6.1 10.1M1140.6 585.9L1155.8 601.8M1155.8 601.8l-6.2 10.1M1152.1 597.9l-6.2 10.1M1162.7 574.2L1178.0 590.0M1178.0 590.0l-6.1 10.1M1174.2 586.1l-6.1 10.1M1062.6 652.4L1077.3 668.8M1077.3 668.8l-6.5 9.8M1073.7 664.8l-6.5 9.8M1070.1 660.7l-3.2 4.9M1084.7 640.7L1099.1 657.3M1099.1 657.3l-6.7 9.7M1095.6 653.2l-6.7 9.7M1092.0 649.2l-3.3 4.9M1106.8 629.0L1121.2 645.7M1121.2 645.7l-6.7 9.7M1117.6 641.6l-6.7 9.7M1128.9 617.3L1143.6 633.6M1143.6 633.6l-6.5 9.8M1140.0 629.6l-6.5 9.8M1151.1 605.6L1165.8 621.9M1165.8 621.9l-6.5 9.9M1162.2 617.9l-6.5 9.9M1173.2 593.9L1188.1 610.0M1188.1 610.0l-6.4 9.9M1184.4 606.1l-6.4 9.9M1095.1 660.2L1109.2 677.0M1109.2 677.0l-6.8 9.6M1105.8 672.9l-6.8 9.6M1117.3 648.5L1131.4 665.3M1131.4 665.3l-6.8 9.6M1128.0 661.2l-6.8 9.6M1139.4 636.8L1154.0 653.3M1154.0 653.3l-6.5 9.8M1150.4 649.3l-6.5 9.8M1161.5 625.2L1176.3 641.5M1176.3 641.5l-6.5 9.9M1172.6 637.5l-6.5 9.9M1105.6 679.7L1119.1 697.0M1119.1 697.0l-7.1 9.4M1115.8 692.7l-7.1 9.4M1112.5 688.5l-3.6 4.7M1127.7 668.0L1141.5 685.2M1141.5 685.2l-7.0 9.5M1138.1 681.0l-7.0 9.5M1149.9 656.4L1163.8 673.4M1163.8 673.4l-6.9 9.5M1160.4 669.3l-6.9 9.5M1093.8 710.7L1106.9 728.4M1106.9 728.4l-7.4 9.2M1103.7 724.0l-7.4 9.2M1100.5 719.7l-3.7 4.6M1116.0 699.1L1129.3 716.7M1129.3 716.7l-7.3 9.3M1126.0 712.4l-7.3 9.3M1122.8 708.1l-3.7 4.6M1138.2 687.5L1151.8 704.9M1151.8 704.9l-7.1 9.4M1148.4 700.6l-7.1 9.4M1160.4 676.0L1173.9 693.3M1173.9 693.3l-7.1 9.4M1170.6 689.0l-7.1 9.4M1084.2 740.3L1096.9 758.3M1096.9 758.3l-7.6 9.0M1093.8 753.9l-7.6 9.0M1090.7 749.5l-3.8 4.5M1106.4 728.8L1119.0 746.8M1119.0 746.8l-7.6 9.0M1115.9 742.4l-7.6 9.0M1128.6 717.2L1141.7 734.9M1141.7 734.9l-7.4 9.2M1138.5 730.6l-7.4 9.2M1150.8 705.7L1164.3 723.1M1164.3 723.1l-7.1 9.4M1161.0 718.8l-7.1 9.4M1096.8 758.4L1109.4 776.4M1109.4 776.4l-7.6 9.0M1106.3 772.0l-7.6 9.0M1103.2 767.6l-3.8 4.5M1119.0 746.9L1131.7 764.9M1131.7 764.9l-7.6 9.0M1128.6 760.4l-7.6 9.0M1125.5 756.0l-3.8 4.5M1141.2 735.4L1154.2 753.2M1154.2 753.2l-7.4 9.1M1151.0 748.8l-7.4 9.1M1163.5 723.9L1176.7 741.4M1176.7 741.4l-7.3 9.3M1173.5 737.1l-7.3 9.3M1064.8 799.3L1077.2 817.5M1077.2 817.5l-7.7 8.9M1074.2 813.1l-7.7 8.9M1071.1 808.6l-3.9 4.4M1087.1 787.9L1099.3 806.2M1099.3 806.2l-7.8 8.8M1096.3 801.7l-7.8 8.8M1093.3 797.2l-3.9 4.4M1109.3 776.4L1121.7 794.6M1121.7 794.6l-7.8 8.9M1118.6 790.2l-7.8 8.9M1115.6 785.7l-3.9 4.4M1131.6 765.0L1144.0 783.1M1144.0 783.1l-7.7 8.9M1140.9 778.7l-7.7 8.9M1137.9 774.2l-3.9 4.5M1153.8 753.5L1166.3 771.6M1166.3 771.6l-7.7 8.9M1163.3 767.2l-7.7 8.9M1075.7 818.3L1088.0 836.5M1088.0 836.5l-7.8 8.9M1085.0 832.1l-7.8 8.9M1082.0 827.6l-3.9 4.4M1120.2 795.5L1132.3 813.9M1132.3 813.9l-7.9 8.8M1129.3 809.4l-7.9 8.8M1126.4 804.9l-3.9 4.4M1142.5 784.1L1154.3 802.7M1154.3 802.7l-8.0 8.7M1151.4 798.1l-8.0 8.7M1086.4 837.4L1098.5 855.8M1098.5 855.8l-7.9 8.8M1095.5 851.3l-7.9 8.8M1092.6 846.8l-3.9 4.4M1108.7 826.1L1120.6 844.6M1120.6 844.6l-8.0 8.7M1117.7 840.1l-8.0 8.7M1114.7 835.5l-4.0 4.3M1131.0 814.7L1142.7 833.4M1142.7 833.4l-8.1 8.6M1139.8 828.8l-8.1 8.6M1097.1 856.6L1108.8 875.2M1108.8 875.2l-8.1 8.6M1105.9 870.6l-8.1 8.6M1119.4 845.2L1131.1 863.9M1131.1 863.9l-8.1 8.6M1128.2 859.3l-8.1 8.6M1107.8 875.7L1119.0 894.6M1119.0 894.6l-8.3 8.4M1116.3 889.9l-8.3 8.4M1130.1 864.4L1141.5 883.2M1141.5 883.2l-8.2 8.5M1138.7 878.6l-8.2 8.5M1118.5 894.8L1129.2 914.0M1129.2 914.0l-8.5 8.2M1126.6 909.3l-8.5 8.2M1129.2 913.9L1139.5 933.3M1139.5 933.3l-8.7 8.0M1137.0 928.6l-8.7 8.0"/>
<path stroke="#fa8a00" d="M791.5 350.9L812.9 356.2M812.9 356.2l0.2 11.8M807.6 354.9l0.2 11.8M802.4 353.6l0.1 5.9M803.5 369.3L825.0 373.5M825.0 373.5l0.8 11.8M819.7 372.5l0.8 11.8M814.4 371.4l0.4 5.9M825.2 356.9L846.4 362.8M846.4 362.8l-0.2 11.8M841.2 361.3l-0.2 11.8M836.0 359.9l-0.1 5.9M815.4 387.6L836.7 392.9M836.7 392.9l0.2 11.8M831.5 391.6l0.2 11.8M826.3 390.3l0.1 5.9M837.1 375.3L858.4 381.0M858.4 381.0l-0.1 11.8M853.2 379.6l-0.1 11.8M847.9 378.2l-0.0 5.9M858.9 362.9L879.3 371.0M879.3 371.0l-1.4 11.7M874.3 369.0l-1.4 11.7M869.3 367.0l-0.7 5.8M880.6 350.5L901.2 358.3M901.2 358.3l-1.2 11.7M896.1 356.4l-1.2 11.7M891.1 354.4l-0.6 5.9M827.3 406.0L848.7 411.3M848.7 411.3l0.1 11.8M843.4 410.0l0.1 11.8M838.2 408.7l0.1 5.9M849.1 393.7L870.1 400.3M870.1 400.3l-0.6 11.8M864.9 398.7l-0.6 11.8M859.8 397.0l-0.3 5.9M870.9 381.3L891.3 389.6M891.3 389.6l-1.5 11.7M886.3 387.5l-1.5 11.7M881.2 385.5l-0.7 5.8M892.6 369.0L912.8 377.8M912.8 377.8l-1.9 11.6M907.8 375.7l-1.9 11.6M902.9 373.5l-0.9 5.8M839.3 424.4L860.5 430.1M860.5 430.1l-0.1 11.8M855.3 428.7l-0.1 11.8M850.1 427.3l-0.0 5.9M861.1 412.1L881.7 419.5M881.7 419.5l-1.1 11.7M876.7 417.7l-1.1 11.7M871.6 415.9l-0.5 5.9M882.8 399.8L903.4 407.7M903.4 407.7l-1.3 11.7M898.3 405.8l-1.3 11.7M893.3 403.8l-0.7 5.9M904.6 387.5L925.0 395.8M925.0 395.8l-1.5 11.7M920.0 393.7l-1.5 11.7M915.0 391.7l-0.8 5.8M926.4 375.2L946.7 383.8M946.7 383.8l-1.7 11.7M941.7 381.7l-1.7 11.7M936.7 379.6l-0.9 5.8M851.2 442.7L872.5 448.4M872.5 448.4l-0.1 11.8M867.2 447.0l-0.1 11.8M862.0 445.6l-0.0 5.9M873.0 430.5L893.3 439.0M893.3 439.0l-1.6 11.7M888.3 436.9l-1.6 11.7M883.3 434.8l-0.8 5.8M894.8 418.2L914.5 428.0M914.5 428.0l-2.4 11.5M909.7 425.6l-2.4 11.5M904.9 423.2l-1.2 5.8M916.6 405.9L936.8 414.8M936.8 414.8l-1.8 11.6M931.9 412.6l-1.8 11.6M926.9 410.4l-0.9 5.8M938.5 393.7L958.7 402.4M958.7 402.4l-1.8 11.7M953.7 400.3l-1.8 11.7M948.7 398.1l-0.9 5.8M863.1 461.1L884.4 466.8M884.4 466.8l-0.1 11.8M879.2 465.4l-0.1 11.8M874.0 464.0l-0.0 5.9M885.0 448.9L905.7 456.1M905.7 456.1l-0.9 11.8M900.6 454.4l-0.9 11.8M895.6 452.6l-0.5 5.9M906.8 436.6L927.8 443.2M927.8 443.2l-0.5 11.8M922.7 441.6l-0.5 11.8M917.5 440.0l-0.3 5.9M928.7 424.4L949.1 432.5M949.1 432.5l-1.4 11.7M944.1 430.5l-1.4 11.7M939.1 428.5l-0.7 5.9M950.5 412.2L970.4 421.6M970.4 421.6l-2.1 11.6M965.5 419.3l-2.1 11.6M960.6 417.0l-1.1 5.8M875.1 479.4L896.0 486.2M896.0 486.2l-0.7 11.8M890.9 484.6l-0.7 11.8M885.7 482.9l-0.3 5.9M896.9 467.3L918.0 473.7M918.0 473.7l-0.5 11.8M912.8 472.1l-0.5 11.8M907.7 470.5l-0.2 5.9M918.8 455.1L939.8 461.5M939.8 461.5l-0.5 11.8M934.7 460.0l-0.5 11.8M929.5 458.4l-0.2 5.9M940.7 442.9L961.1 450.9M961.1 450.9l-1.4 11.7M956.1 449.0l-1.4 11.7M951.1 447.0l-0.7 5.9M962.5 430.7L981.8 441.3M981.8 441.3l-2.9 11.4M977.1 438.7l-2.9 11.4M972.3 436.1l-1.4 5.7M908.9 485.7L929.6 493.2M929.6 493.2l-1.1 11.7M924.5 491.3l-1.1 11.7M919.4 489.5l-0.5 5.9M930.8 473.5L951.7 480.3M951.7 480.3l-0.7 11.8M946.6 478.7l-0.7 11.8M941.4 477.0l-0.3 5.9M952.7 461.4L972.7 470.5M972.7 470.5l-2.0 11.6M967.8 468.3l-2.0 11.6M962.9 466.0l-1.0 5.8M974.6 449.3L993.8 459.9M993.8 459.9l-2.9 11.4M989.1 457.3l-2.9 11.4M984.3 454.7l-1.5 5.7M898.5 516.5L918.5 525.5M918.5 525.5l-1.9 11.6M913.6 523.3l-1.9 11.6M908.7 521.1l-1.9 11.6M920.4 504.4L940.6 513.1M940.6 513.1l-1.8 11.7M935.6 511.0l-1.8 11.7M930.7 508.8l-0.9 5.8M942.3 492.3L962.5 500.9M962.5 500.9l-1.7 11.7M957.6 498.8l-1.7 11.7M952.6 496.6l-0.8 5.8M964.2 480.2L983.5 490.6M983.5 490.6l-2.8 11.5M978.8 488.1l-2.8 11.5M974.0 485.5l-1.4 5.7M909.9 535.2L928.4 547.0M928.4 547.0l-3.6 11.2M923.9 544.1l-3.6 11.2M919.3 541.2l-1.8 5.6M931.8 523.1L950.1 535.3M950.1 535.3l-3.8 11.1M945.6 532.3l-3.8 11.1M941.1 529.3l-1.9 5.6M953.7 511.1L972.5 522.5M972.5 522.5l-3.4 11.3M967.9 519.7l-3.4 11.3M963.3 516.9l-1.7 5.6M975.7 499.0L994.1 511.0M994.1 511.0l-3.7 11.2M989.6 508.0l-3.7 11.2M985.1 505.1l-1.8 5.6M921.3 553.9L939.5 566.2M939.5 566.2l-3.9 11.1M935.0 563.1l-3.9 11.1M930.6 560.1l-1.9 5.6M943.2 541.9L961.4 554.2M961.4 554.2l-3.9 11.1M957.0 551.2l-3.9 11.1M952.5 548.1l-1.9 5.6M965.2 529.8L983.0 542.7M983.0 542.7l-4.2 11.0M978.7 539.5l-4.2 11.0M974.3 536.4l-2.1 5.5M987.1 517.8L1005.1 530.5M1005.1 530.5l-4.1 11.1M1000.7 527.4l-4.1 11.1M996.3 524.3l-2.0 5.5M932.7 572.6L950.7 585.2M950.7 585.2l-4.1 11.1M946.3 582.1l-4.1 11.1M941.8 579.0l-2.0 5.5M954.6 560.6L972.5 573.4M972.5 573.4l-4.2 11.0M968.1 570.3l-4.2 11.0M963.8 567.1l-2.1 5.5M976.6 548.6L994.4 561.6M994.4 561.6l-4.3 11.0M990.1 558.4l-4.3 11.0M985.7 555.2l-2.1 5.5M998.6 536.7L1016.6 549.3M1016.6 549.3l-4.1 11.0M1012.2 546.2l-4.1 11.0M1007.7 543.1l-2.1 5.5M944.1 591.3L961.9 604.2M961.9 604.2l-4.3 11.0M957.5 601.0l-4.3 11.0M953.1 597.8l-2.1 5.5M966.1 579.3L983.9 592.2M983.9 592.2l-4.2 11.0M979.5 589.1l-4.2 11.0M975.1 585.9l-2.1 5.5M988.1 567.4L1005.9 580.3M1005.9 580.3l-4.2 11.0M1001.5 577.1l-4.2 11.0M997.1 574.0l-2.1 5.5M1032.1 543.6L1049.7 556.7M1049.7 556.7l-4.4 10.9M1045.4 553.4l-4.4 10.9M1041.1 550.2l-2.2 5.5M955.0 610.3L972.7 623.2M972.7 623.2l-4.3 11.0M968.4 620.0l-4.3 11.0M964.0 616.9l-2.1 5.5M977.0 598.4L994.6 611.5M994.6 611.5l-4.4 10.9M990.3 608.3l-4.4 10.9M986.0 605.0l-2.2 5.5M1043.0 562.7L1060.3 576.3M1060.3 576.3l-4.7 10.8M1056.1 573.0l-4.7 10.8M1051.8 569.7l-2.4 5.4M965.3 629.6L982.4 643.4M982.4 643.4l-4.8 10.8M978.2 640.0l-4.8 10.8M974.0 636.6l-2.4 5.4M987.3 617.7L1004.9 631.0M1004.9 631.0l-4.5 10.9M1000.6 627.7l-4.5 10.9M996.3 624.5l-2.2 5.5M975.6 648.9L991.8 663.8M991.8 663.8l-5.5 10.4M987.8 660.1l-5.5 10.4M983.9 656.5l-2.8 5.2M997.7 637.1L1015.0 650.6M1015.0 650.6l-4.7 10.8M1010.8 647.3l-4.7 10.8M1006.5 644.0l-2.3 5.4M1041.8 613.5L1058.6 627.7M1058.6 627.7l-5.1 10.6M1054.5 624.2l-5.1 10.6M1050.4 620.7l-2.5 5.3M985.9 668.2L1001.6 683.6M1001.6 683.6l-5.9 10.2M997.8 679.8l-5.9 10.2M993.9 676.0l-2.9 5.1M1008.0 656.4L1024.0 671.6M1024.0 671.6l-5.7 10.3M1020.0 667.9l-5.7 10.3M1016.1 664.2l-2.8 5.2M1030.1 644.7L1046.4 659.5M1046.4 659.5l-5.4 10.5M1042.4 655.8l-5.4 10.5M1038.4 652.2l-2.7 5.2M1052.2 632.9L1068.5 647.7M1068.5 647.7l-5.4 10.5M1064.5 644.1l-5.4 10.5M1060.5 640.4l-2.7 5.2M1074.3 621.2L1090.5 636.1M1090.5 636.1l-5.5 10.4M1086.5 632.5l-5.5 10.4M1082.5 628.8l-2.8 5.2M996.3 687.5L1011.8 703.1M1011.8 703.1l-5.9 10.2M1008.0 699.3l-5.9 10.2M1004.2 695.4l-3.0 5.1M1018.4 675.8L1033.6 691.6M1033.6 691.6l-6.1 10.1M1029.9 687.7l-6.1 10.1M1026.1 683.9l-3.1 5.0M1040.5 664.1L1054.4 681.1M1054.4 681.1l-6.9 9.5M1051.0 676.9l-6.9 9.5M1047.6 672.8l-3.5 4.8M1006.6 706.8L1021.4 723.1M1021.4 723.1l-6.4 9.9M1017.7 719.1l-6.4 9.9M1014.1 715.1l-3.2 4.9M1028.7 695.2L1042.6 712.2M1042.6 712.2l-6.9 9.5M1039.2 708.0l-6.9 9.5M1035.8 703.8l-3.5 4.8M1050.9 683.5L1063.6 701.4M1063.6 701.4l-7.6 9.0M1060.5 697.0l-7.6 9.0M1057.3 692.6l-3.8 4.5M1073.0 671.8L1086.3 689.4M1086.3 689.4l-7.3 9.3M1083.0 685.1l-7.3 9.3M1079.8 680.8l-3.6 4.6M1016.9 726.1L1030.9 743.1M1030.9 743.1l-6.9 9.5M1027.4 739.0l-6.9 9.5M1024.0 734.8l-3.5 4.8M1039.1 714.5L1053.2 731.4M1053.2 731.4l-6.8 9.6M1049.7 727.3l-6.8 9.6M1046.2 723.1l-3.4 4.8M1061.2 702.9L1074.1 720.7M1074.1 720.7l-7.5 9.1M1071.0 716.3l-7.5 9.1M1067.8 712.0l-3.7 4.6M1083.4 691.3L1096.9 708.7M1096.9 708.7l-7.2 9.3M1093.6 704.4l-7.2 9.3M1090.2 700.1l-3.6 4.7M1027.3 745.4L1040.8 762.8M1040.8 762.8l-7.1 9.4M1037.5 758.5l-7.1 9.4M1034.2 754.2l-3.6 4.7M1049.5 733.8L1063.0 751.2M1063.0 751.2l-7.2 9.4M1059.7 746.9l-7.2 9.4M1056.3 742.7l-3.6 4.7M1071.7 722.3L1084.3 740.2M1084.3 740.2l-7.6 9.0M1081.2 735.8l-7.6 9.0M1078.1 731.4l-3.8 4.5M1039.8 763.4L1052.9 781.1M1052.9 781.1l-7.4 9.2M1049.7 776.7l-7.4 9.2M1046.5 772.4l-3.7 4.6M1062.0 751.9L1074.7 769.8M1074.7 769.8l-7.6 9.0M1071.6 765.4l-7.6 9.0M1068.5 761.0l-3.8 4.5M1052.3 781.4L1065.0 799.3M1065.0 799.3l-7.6 9.0M1061.9 794.9l-7.6 9.0M1058.8 790.5l-3.8 4.5M1074.5 769.9L1087.2 787.9M1087.2 787.9l-7.6 9.0M1084.1 783.5l-7.6 9.0M1081.0 779.0l-3.8 4.5M1098.0 806.9L1110.0 825.3M1110.0 825.3l-7.9 8.8M1107.1 820.8l-7.9 8.8M1104.1 816.3l-3.9 4.4"/>
<path stroke="#ff1010" d="M887.0 497.8L907.2 506.7M907.2 506.7l-1.9 11.6M902.2 504.5l-1.9 11.6M897.3 502.3l-1.9 11.6"/>
<path stroke="#555555" d="M259.9 901a4.5 4.5 0 1 0 -9 0a4.5 4.5 0 1 0 9 0"/>
<path stroke="#333" stroke-width="1" d="M78.5 1069.4L89.3 1069.1L93.7 1072.7L94.3 1078.3L91.5 1078.8L88.7 1076.1L86 1074.4L78.5 1074.4M99.3 1077.7L102 1076.6L107 1078.8L111.4 1082.1L112.5 1086L110.9 1087.7L108.7 1085.5L105.3 1082.1L99.8 1079.4ZM107.8 1096.5L107.8 1101M104.2 1102.6a2 2 0 1 0 4 0a2 2 0 1 0 -4 0M142.6 1106.5a1.4 3.6 0 1 0 2.8 0a1.4 3.6 0 1 0 -2.8 0"/>
<path stroke="#333" stroke-width="2" d="M89 1123.8l0.8 -0.5M94.4 1123l0.3 -0.8M136.6 1120.8l0.6 -0.5"/>
</g>
<rect x="78.4" y="137.5" width="1195.1" height="1076.9" fill="none" stroke="#000" stroke-width="1.1"/>
<text x="257.6" y="128.7" font-family="Liberation Sans, sans-serif" font-size="18.6" text-anchor="middle">70°W</text>
<text x="257.6" y="1233.0" font-family="Liberation Sans, sans-serif" font-size="18.6" text-anchor="middle">70°W</text>
<text x="456.7" y="128.7" font-family="Liberation Sans, sans-serif" font-size="18.6" text-anchor="middle">68°W</text>
<text x="456.7" y="1233.0" font-family="Liberation Sans, sans-serif" font-size="18.6" text-anchor="middle">68°W</text>
<text x="655.9" y="128.7" font-family="Liberation Sans, sans-serif" font-size="18.6" text-anchor="middle">66°W</text>
<text x="655.9" y="1233.0" font-family="Liberation Sans, sans-serif" font-size="18.6" text-anchor="middle">66°W</text>
<text x="855.0" y="128.7" font-family="Liberation Sans, sans-serif" font-size="18.6" text-anchor="middle">64°W</text>
<text x="855.0" y="1233.0" font-family="Liberation Sans, sans-serif" font-size="18.6" text-anchor="middle">64°W</text>
<text x="1054.2" y="128.7" font-family="Liberation Sans, sans-serif" font-size="18.6" text-anchor="middle">62°W</text>
<text x="1054.2" y="1233.0" font-family="Liberation Sans, sans-serif" font-size="18.6" text-anchor="middle">62°W</text>
<text x="1253.3" y="128.7" font-family="Liberation Sans, sans-serif" font-size="18.6" text-anchor="middle">60°W</text>
<text x="1253.3" y="1233.0" font-family="Liberation Sans, sans-serif" font-size="18.6" text-anchor="middle">60°W</text>
<text x="72.6" y="1158.6" font-family="Liberation Sans, sans-serif" font-size="18.6" text-anchor="end" textLength="43.6" lengthAdjust="spacingAndGlyphs">21°N</text>
<text x="1278.3" y="1158.6" font-family="Liberation Sans, sans-serif" font-size="18.6" text-anchor="start" textLength="43.6" lengthAdjust="spacingAndGlyphs">21°N</text>
<text x="72.6" y="1009.3" font-family="Liberation Sans, sans-serif" font-size="18.6" text-anchor="end" textLength="60.0" lengthAdjust="spacingAndGlyphs">22.5°N</text>
<text x="1278.3" y="1009.3" font-family="Liberation Sans, sans-serif" font-size="18.6" text-anchor="start" textLength="60.0" lengthAdjust="spacingAndGlyphs">22.5°N</text>
<text x="72.6" y="860.0" font-family="Liberation Sans, sans-serif" font-size="18.6" text-anchor="end" textLength="43.6" lengthAdjust="spacingAndGlyphs">24°N</text>
<text x="1278.3" y="860.0" font-family="Liberation Sans, sans-serif" font-size="18.6" text-anchor="start" textLength="43.6" lengthAdjust="spacingAndGlyphs">24°N</text>
<text x="72.6" y="710.6" font-family="Liberation Sans, sans-serif" font-size="18.6" text-anchor="end" textLength="60.0" lengthAdjust="spacingAndGlyphs">25.5°N</text>
<text x="1278.3" y="710.6" font-family="Liberation Sans, sans-serif" font-size="18.6" text-anchor="start" textLength="60.0" lengthAdjust="spacingAndGlyphs">25.5°N</text>
<text x="72.6" y="561.3" font-family="Liberation Sans, sans-serif" font-size="18.6" text-anchor="end" textLength="43.6" lengthAdjust="spacingAndGlyphs">27°N</text>
<text x="1278.3" y="561.3" font-family="Liberation Sans, sans-serif" font-size="18.6" text-anchor="start" textLength="43.6" lengthAdjust="spacingAndGlyphs">27°N</text>
<text x="72.6" y="411.9" font-family="Liberation Sans, sans-serif" font-size="18.6" text-anchor="end" textLength="60.0" lengthAdjust="spacingAndGlyphs">28.5°N</text>
<text x="1278.3" y="411.9" font-family="Liberation Sans, sans-serif" font-size="18.6" text-anchor="start" textLength="60.0" lengthAdjust="spacingAndGlyphs">28.5°N</text>
<text x="72.6" y="262.6" font-family="Liberation Sans, sans-serif" font-size="18.6" text-anchor="end" textLength="43.6" lengthAdjust="spacingAndGlyphs">30°N</text>
<text x="1278.3" y="262.6" font-family="Liberation Sans, sans-serif" font-size="18.6" text-anchor="start" textLength="43.6" lengthAdjust="spacingAndGlyphs">30°N</text>
<text x="757.6" y="41.1" font-family="Liberation Sans, sans-serif" font-weight="bold" font-size="39.5" text-anchor="middle" textLength="734" lengthAdjust="spacingAndGlyphs">Hurricane Humberto (2025) HY-2C</text>
<text x="757.6" y="81.5" font-family="Liberation Sans, sans-serif" font-weight="bold" font-size="39.5" text-anchor="middle" textLength="784" lengthAdjust="spacingAndGlyphs">Descending Pass 2025-09-28 23:50Z</text>
<rect x="1375.4" y="1138.48" width="37.2" height="103.12" fill="#555555"/>
<rect x="1375.4" y="1035.66" width="37.2" height="103.12" fill="#00bfff"/>
<rect x="1375.4" y="932.85" width="37.2" height="103.12" fill="#0033ff"/>
<rect x="1375.4" y="830.03" width="37.2" height="103.12" fill="#009600"/>
<rect x="1375.4" y="727.21" width="37.2" height="103.12" fill="#ffd700"/>
<rect x="1375.4" y="624.39" width="37.2" height="103.12" fill="#ff8c00"/>
<rect x="1375.4" y="521.57" width="37.2" height="103.12" fill="#ff1010"/>
<rect x="1375.4" y="418.75" width="37.2" height="103.12" fill="#803c28"/>
<rect x="1375.4" y="315.94" width="37.2" height="103.12" fill="#ff00ff"/>
<rect x="1375.4" y="213.12" width="37.2" height="103.12" fill="#8000b0"/>
<rect x="1375.4" y="110.30" width="37.2" height="103.12" fill="#33005f"/>
<rect x="1375.4" y="110.3" width="37.2" height="1131.0" fill="none" stroke="#000" stroke-width="1.1"/>
<path d="M1412.6 1241.30H1418.3999999999999" stroke="#000" stroke-width="1.1"/>
<text x="1425.5" y="1248.5" font-family="Liberation Sans, sans-serif" font-size="18.6">0</text>
<path d="M1412.6 1138.48H1418.3999999999999" stroke="#000" stroke-width="1.1"/>
<text x="1425.5" y="1145.7" font-family="Liberation Sans, sans-serif" font-size="18.6">5</text>
<path d="M1412.6 1035.66H1418.3999999999999" stroke="#000" stroke-width="1.1"/>
<text x="1425.5" y="1042.9" font-family="Liberation Sans, sans-serif" font-size="18.6">10</text>
<path d="M1412.6 932.85H1418.3999999999999" stroke="#000" stroke-width="1.1"/>
<text x="1425.5" y="940.0" font-family="Liberation Sans, sans-serif" font-size="18.6">15</text>
<path d="M1412.6 830.03H1418.3999999999999" stroke="#000" stroke-width="1.1"/>
<text x="1425.5" y="837.2" font-family="Liberation Sans, sans-serif" font-size="18.6">20</text>
<path d="M1412.6 727.21H1418.3999999999999" stroke="#000" stroke-width="1.1"/>
<text x="1425.5" y="734.4" font-family="Liberation Sans, sans-serif" font-size="18.6">25</text>
<path d="M1412.6 624.39H1418.3999999999999" stroke="#000" stroke-width="1.1"/>
<text x="1425.5" y="631.6" font-family="Liberation Sans, sans-serif" font-size="18.6">30</text>
<path d="M1412.6 521.57H1418.3999999999999" stroke="#000" stroke-width="1.1"/>
<text x="1425.5" y="528.8" font-family="Liberation Sans, sans-serif" font-size="18.6">35</text>
<path d="M1412.6 418.75H1418.3999999999999" stroke="#000" stroke-width="1.1"/>
<text x="1425.5" y="426.0" font-family="Liberation Sans, sans-serif" font-size="18.6">40</text>
<path d="M1412.6 315.94H1418.3999999999999" stroke="#000" stroke-width="1.1"/>
<text x="1425.5" y="323.1" font-family="Liberation Sans, sans-serif" font-size="18.6">45</text>
<path d="M1412.6 213.12H1418.3999999999999" stroke="#000" stroke-width="1.1"/>
<text x="1425.5" y="220.3" font-family="Liberation Sans, sans-serif" font-size="18.6">50</text>
<path d="M1412.6 110.3H1418.3999999999999" stroke="#000" stroke-width="1.1"/>
<text transform="translate(1494.5,677.7) rotate(-90)" font-family="Liberation Sans, sans-serif" font-size="29.6" text-anchor="middle" textLength="271" lengthAdjust="spacingAndGlyphs">Wind Speed (knots)</text>
<g>
<defs><radialGradient id="oc" cx="0.42" cy="0.38" r="0.7"><stop offset="0" stop-color="#2a6cc0"/><stop offset="1" stop-color="#1356a8"/></radialGradient>
<clipPath id="gc"><circle cx="50.35" cy="59.1" r="38.3"/></clipPath></defs>
<circle cx="50.35" cy="59.1" r="38.3" fill="url(#oc)"/>
<g clip-path="url(#gc)">
<path d="M33.2 26L45.2 21.5L54.5 23L63.2 28L66.5 34.6L65.1 40L59.8 45.9L57.2 51.2L54.5 55.2L51.9 60.5L49.2 55.2L45.2 45.9L39.9 39.9L35.9 32.6Z" fill="#6f8a48"/>
<path d="M38 30L44 27L47 36L45 44L41 38Z" fill="#b3a77a"/>
<path d="M50 28L58 27L62 33L56 40L51 36Z" fill="#4f7a38"/>
<path d="M62.5 65.8L71.1 64.5L77.8 68.5L84.4 72.5L84.4 77.8L81.1 84.4L74.4 89.8L69.1 93.1L66.5 89.8L65.1 83.1L63.1 76.5Z" fill="#5f8a3e"/>
<path d="M66 84L70 86L69 92L66.5 90Z" fill="#b08a60"/>
</g>
<text x="49.9" y="74.5" font-family="Liberation Sans, sans-serif" font-weight="bold" font-size="43" text-anchor="middle" textLength="74.4" lengthAdjust="spacingAndGlyphs" fill="#fff" stroke="#fff" stroke-width="1.6">COAPS</text>
</g>

</svg></body></html>
